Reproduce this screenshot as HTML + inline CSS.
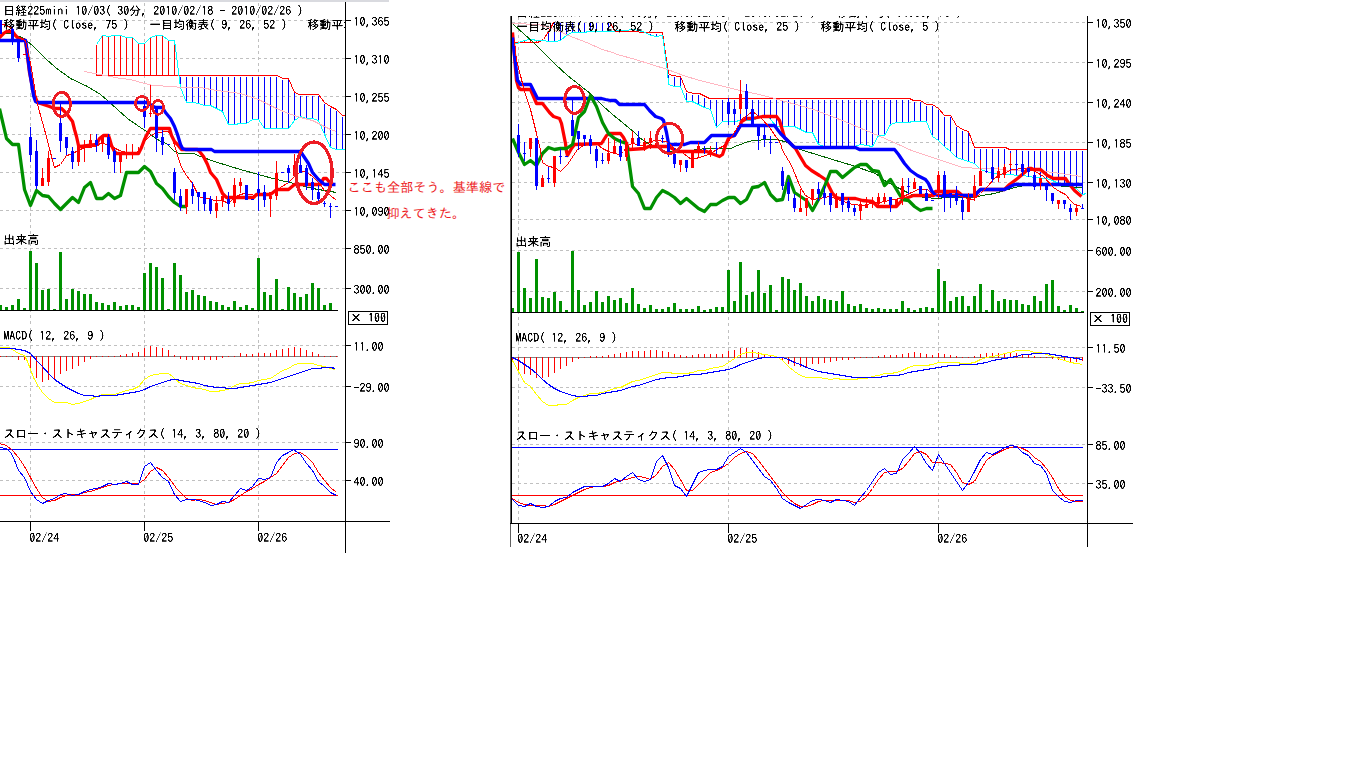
<!DOCTYPE html>
<html lang="ja"><head><meta charset="utf-8"><title>日経225mini チャート</title>
<style>html,body{margin:0;padding:0;background:#fff}body{width:1366px;height:768px;overflow:hidden;position:relative}svg{position:absolute;left:0;top:0;display:block}text{font-family:'IPAGothic','Liberation Mono',monospace;white-space:pre}.ce{shape-rendering:crispEdges}</style>
</head><body>
<svg width="1366" height="768" viewBox="0 0 1366 768">
<defs>
<clipPath id="cl"><rect x="0" y="2" width="345" height="520"/></clipPath>
<clipPath id="cr"><rect x="512" y="19" width="575" height="505"/></clipPath>
<clipPath id="ct"><rect x="512" y="16" width="575" height="30"/></clipPath>
<clipPath id="clt"><rect x="0" y="2" width="345" height="40"/></clipPath>
<filter id="gray" x="0" y="0" width="1366" height="768" filterUnits="userSpaceOnUse" color-interpolation-filters="sRGB"><feColorMatrix type="saturate" values="0"/><feComponentTransfer><feFuncA type="linear" slope="2.6" intercept="-0.5"/></feComponentTransfer></filter>
</defs>
<rect x="0" y="0" width="1366" height="768" fill="#ffffff"/>
<rect x="0" y="0" width="389" height="2" fill="#d9dadf"/>
<g class="ce">
<line x1="0" y1="20.5" x2="345" y2="20.5" stroke="#c0c0c0" stroke-width="1" stroke-dasharray="3,3" stroke-dashoffset="0"/>
<line x1="0" y1="58.5" x2="345" y2="58.5" stroke="#c0c0c0" stroke-width="1" stroke-dasharray="3,3" stroke-dashoffset="0"/>
<line x1="0" y1="96.5" x2="345" y2="96.5" stroke="#c0c0c0" stroke-width="1" stroke-dasharray="3,3" stroke-dashoffset="0"/>
<line x1="0" y1="134.5" x2="345" y2="134.5" stroke="#c0c0c0" stroke-width="1" stroke-dasharray="3,3" stroke-dashoffset="0"/>
<line x1="0" y1="172.5" x2="345" y2="172.5" stroke="#c0c0c0" stroke-width="1" stroke-dasharray="3,3" stroke-dashoffset="0"/>
<line x1="0" y1="210.5" x2="345" y2="210.5" stroke="#c0c0c0" stroke-width="1" stroke-dasharray="3,3" stroke-dashoffset="0"/>
<line x1="0" y1="248.5" x2="345" y2="248.5" stroke="#c0c0c0" stroke-width="1" stroke-dasharray="3,3" stroke-dashoffset="0"/>
<line x1="0" y1="288.5" x2="345" y2="288.5" stroke="#c0c0c0" stroke-width="1" stroke-dasharray="3,3" stroke-dashoffset="0"/>
<line x1="0" y1="345.5" x2="345" y2="345.5" stroke="#c0c0c0" stroke-width="1" stroke-dasharray="3,3" stroke-dashoffset="0"/>
<line x1="0" y1="386.5" x2="345" y2="386.5" stroke="#c0c0c0" stroke-width="1" stroke-dasharray="3,3" stroke-dashoffset="0"/>
<line x1="0" y1="442.5" x2="345" y2="442.5" stroke="#c0c0c0" stroke-width="1" stroke-dasharray="3,3" stroke-dashoffset="0"/>
<line x1="0" y1="480.5" x2="345" y2="480.5" stroke="#c0c0c0" stroke-width="1" stroke-dasharray="3,3" stroke-dashoffset="0"/>
<line x1="30.5" y1="3" x2="30.5" y2="326" stroke="#c0c0c0" stroke-width="1" stroke-dasharray="3,3" stroke-dashoffset="0"/>
<line x1="30.5" y1="328" x2="30.5" y2="421" stroke="#c0c0c0" stroke-width="1" stroke-dasharray="3,3" stroke-dashoffset="0"/>
<line x1="30.5" y1="425" x2="30.5" y2="518" stroke="#c0c0c0" stroke-width="1" stroke-dasharray="3,3" stroke-dashoffset="0"/>
<line x1="144.5" y1="3" x2="144.5" y2="326" stroke="#c0c0c0" stroke-width="1" stroke-dasharray="3,3" stroke-dashoffset="0"/>
<line x1="144.5" y1="328" x2="144.5" y2="421" stroke="#c0c0c0" stroke-width="1" stroke-dasharray="3,3" stroke-dashoffset="0"/>
<line x1="144.5" y1="425" x2="144.5" y2="518" stroke="#c0c0c0" stroke-width="1" stroke-dasharray="3,3" stroke-dashoffset="0"/>
<line x1="258.5" y1="3" x2="258.5" y2="326" stroke="#c0c0c0" stroke-width="1" stroke-dasharray="3,3" stroke-dashoffset="0"/>
<line x1="258.5" y1="328" x2="258.5" y2="421" stroke="#c0c0c0" stroke-width="1" stroke-dasharray="3,3" stroke-dashoffset="0"/>
<line x1="258.5" y1="425" x2="258.5" y2="518" stroke="#c0c0c0" stroke-width="1" stroke-dasharray="3,3" stroke-dashoffset="0"/>
<g clip-path="url(#cl)">
<rect x="96" y="44.9" width="1" height="30.6" fill="#ff0000"/>
<rect x="102" y="35.1" width="1" height="40.4" fill="#ff0000"/>
<rect x="108" y="36.6" width="1" height="38.9" fill="#ff0000"/>
<rect x="114" y="35" width="1" height="40.5" fill="#ff0000"/>
<rect x="120" y="35.1" width="1" height="40.4" fill="#ff0000"/>
<rect x="126" y="37.4" width="1" height="38.1" fill="#ff0000"/>
<rect x="132" y="37.4" width="1" height="38.1" fill="#ff0000"/>
<rect x="138" y="43.2" width="1" height="32.3" fill="#ff0000"/>
<rect x="144" y="43.2" width="1" height="32.3" fill="#ff0000"/>
<rect x="150" y="37.4" width="1" height="38.1" fill="#ff0000"/>
<rect x="156" y="35.1" width="1" height="40.4" fill="#ff0000"/>
<rect x="162" y="35.1" width="1" height="40.4" fill="#ff0000"/>
<rect x="168" y="40.3" width="1" height="35.2" fill="#ff0000"/>
<rect x="174" y="40.3" width="1" height="35.2" fill="#ff0000"/>
<rect x="180" y="77" width="1" height="10.4" fill="#0000ff"/>
<rect x="186" y="77" width="1" height="25.5" fill="#0000ff"/>
<rect x="192" y="77" width="1" height="25.5" fill="#0000ff"/>
<rect x="198" y="77" width="1" height="26.9" fill="#0000ff"/>
<rect x="204" y="77" width="1" height="28.6" fill="#0000ff"/>
<rect x="210" y="77" width="1" height="28.6" fill="#0000ff"/>
<rect x="216" y="77" width="1" height="31.3" fill="#0000ff"/>
<rect x="222" y="77" width="1" height="34.7" fill="#0000ff"/>
<rect x="228" y="77" width="1" height="47.4" fill="#0000ff"/>
<rect x="234" y="77" width="1" height="47.4" fill="#0000ff"/>
<rect x="240" y="77" width="1" height="46.3" fill="#0000ff"/>
<rect x="246" y="77" width="1" height="46.3" fill="#0000ff"/>
<rect x="252" y="77" width="1" height="42.6" fill="#0000ff"/>
<rect x="258" y="77" width="1" height="42.6" fill="#0000ff"/>
<rect x="264" y="77" width="1" height="51.3" fill="#0000ff"/>
<rect x="270" y="77" width="1" height="51.3" fill="#0000ff"/>
<rect x="276" y="77" width="1" height="51.3" fill="#0000ff"/>
<rect x="282" y="79.84" width="1" height="48.46" fill="#0000ff"/>
<rect x="288" y="79.9" width="1" height="48.4" fill="#0000ff"/>
<rect x="294" y="93.38" width="1" height="27.12" fill="#0000ff"/>
<rect x="300" y="95.9" width="1" height="20.7" fill="#0000ff"/>
<rect x="306" y="95.9" width="1" height="22.5" fill="#0000ff"/>
<rect x="312" y="95.9" width="1" height="22.5" fill="#0000ff"/>
<rect x="318" y="95.9" width="1" height="24.6" fill="#0000ff"/>
<rect x="324" y="103.96" width="1" height="30.24" fill="#0000ff"/>
<rect x="330" y="107.8" width="1" height="39.8" fill="#0000ff"/>
<rect x="336" y="110.65" width="1" height="38.95" fill="#0000ff"/>
<rect x="342" y="117" width="1" height="32.6" fill="#0000ff"/>
<polyline points="96.5,75.5 277.5,75.5 282.5,78.5 288.5,78.5 294.5,92.5 299.5,94.5 318.5,94.5 324.5,102.5 330.5,106.5 336.5,109.5 342.5,115.5 345.5,115.5" fill="none" stroke="#ff0000" stroke-width="1"/>
<polyline points="96.5,44.5 102.5,35.5 108.5,36.5 114.5,35.5 120.5,35.5 126.5,37.5 132.5,37.5 138.5,43.5 144.5,43.5 150.5,37.5 156.5,35.5 162.5,35.5 168.5,40.5 174.5,40.5 180.5,87.5 186.5,102.5 192.5,102.5 198.5,103.5 204.5,105.5 210.5,105.5 216.5,108.5 222.5,111.5 228.5,124.5 234.5,124.5 240.5,123.5 246.5,123.5 252.5,119.5 258.5,119.5 264.5,128.5 270.5,128.5 276.5,128.5 282.5,128.5 288.5,128.5 294.5,120.5 300.5,116.5 306.5,118.5 312.5,118.5 318.5,120.5 324.5,134.5 330.5,147.5 336.5,149.5 342.5,149.5 345.5,149.5" fill="none" stroke="#00ffff" stroke-width="1"/>
<polyline points="84.5,71.5 120.5,78.5 130.5,79.5 144.5,83.5 153.5,85.5 172.5,86.5 180.5,87.5 200.5,87.5 216.5,90.5 240.5,93.5 252.5,97.5 258.5,99.5 276.5,108.5 288.5,113.5 300.5,117.5 312.5,120.5 318.5,123.5 330.5,129.5 336.5,131.5" fill="none" stroke="#ffb6c1" stroke-width="1"/>
<polyline points="-0.5,33.5 4.5,33.5 9.5,33.5 18.5,36.5 22.5,37.5 26.5,40.5 33.5,46.5 45.5,58.5 55.5,67.5 70.5,78.5 87.5,86.5 100.5,94.5 107.5,100.5 117.5,109.5 127.5,118.5 137.5,125.5 146.5,131.5 150.5,134.5 160.5,141.5 166.5,143.5 174.5,151.5 179.5,153.5 193.5,153.5 200.5,156.5 214.5,161.5 230.5,166.5 240.5,169.5 258.5,174.5 276.5,179.5 294.5,183.5 312.5,188.5 336.5,192.5" fill="none" stroke="#006400" stroke-width="1"/>
<polyline points="-1.5,38.5 0.5,36.5 3.5,33.5 6.5,31.5 9.5,31.5 12.5,31.5 15.5,35.5 18.5,38.5 22.5,39.5 25.5,40.5 26.5,48.5 29.5,72.5 33.5,92.5 37.5,102.5 43.5,104.5 49.5,106.5 54.5,108.5 61.5,108.5 66.5,113.5 72.5,121.5 74.5,129.5 76.5,136.5 78.5,145.5 80.5,146.5 96.5,144.5 99.5,138.5 103.5,135.5 108.5,135.5 109.5,138.5 111.5,145.5 114.5,151.5 116.5,153.5 138.5,153.5 141.5,147.5 144.5,139.5 147.5,133.5 150.5,128.5 169.5,128.5 171.5,135.5 174.5,141.5 177.5,144.5 181.5,149.5 197.5,149.5 199.5,151.5 203.5,156.5 207.5,164.5 210.5,172.5 216.5,179.5 219.5,186.5 222.5,193.5 226.5,197.5 253.5,197.5 256.5,194.5 270.5,194.5 275.5,190.5 277.5,189.5 288.5,189.5 294.5,184.5 320.5,184.5 323.5,178.5 326.5,178.5 330.5,183.5 333.5,184.5" fill="none" stroke="#ff0000" stroke-width="3.3" stroke-linejoin="round" shape-rendering="geometricPrecision"/>
<polyline points="-1.5,40.5 25.5,40.5 26.5,46.5 29.5,70.5 33.5,95.5 35.5,101.5 37.5,102.5 146.5,102.5 153.5,106.5 155.5,107.5 162.5,107.5 165.5,112.5 170.5,118.5 174.5,126.5 177.5,134.5 180.5,144.5 182.5,148.5 185.5,149.5 211.5,149.5 214.5,151.5 300.5,151.5 302.5,154.5 308.5,163.5 312.5,172.5 318.5,179.5 324.5,184.5 326.5,184.5 335.5,184.5" fill="none" stroke="#0000ff" stroke-width="3.3" stroke-linejoin="round" shape-rendering="geometricPrecision"/>
<polyline points="-0.5,108.5 6.5,138.5 12.5,144.5 18.5,144.5 24.5,189.5 30.5,205.5 36.5,190.5 42.5,195.5 48.5,196.5 54.5,203.5 60.5,209.5 66.5,203.5 72.5,197.5 78.5,202.5 84.5,187.5 90.5,182.5 96.5,198.5 102.5,198.5 108.5,193.5 114.5,198.5 120.5,195.5 126.5,172.5 132.5,172.5 138.5,172.5 144.5,166.5 150.5,171.5 156.5,183.5 162.5,188.5 168.5,196.5 174.5,202.5 180.5,206.5 186.5,206.5" fill="none" stroke="#009000" stroke-width="3.3" stroke-linejoin="round" shape-rendering="geometricPrecision"/>
<polyline points="-0.5,23.5 2.5,24.5 6.5,25.5 10.5,27.5 13.5,31.5 15.5,34.5 18.5,37.5 22.5,39.5 25.5,40.5 27.5,50.5 30.5,63.5 35.5,92.5 37.5,104.5 44.5,129.5 49.5,148.5 52.5,160.5 54.5,167.5 60.5,164.5 66.5,155.5 70.5,154.5 74.5,152.5 82.5,148.5 88.5,147.5 96.5,146.5 101.5,142.5 106.5,144.5 111.5,146.5 115.5,148.5 119.5,150.5 126.5,152.5 134.5,152.5 139.5,151.5 144.5,141.5 150.5,135.5 157.5,132.5 168.5,131.5 172.5,138.5 175.5,148.5 178.5,158.5 181.5,167.5 186.5,175.5 192.5,183.5 197.5,193.5 200.5,197.5 208.5,198.5 214.5,200.5 222.5,200.5 226.5,202.5 229.5,202.5 234.5,197.5 240.5,194.5 244.5,193.5 250.5,194.5 255.5,195.5 264.5,195.5 270.5,192.5 276.5,190.5 280.5,187.5 288.5,182.5 294.5,176.5 297.5,173.5 303.5,171.5 308.5,173.5 312.5,176.5 318.5,182.5 324.5,190.5 330.5,195.5 336.5,200.5" fill="none" stroke="#ff0000" stroke-width="1"/>
<rect x="0" y="20" width="1" height="14" fill="#0000ff"/>
<rect x="-1" y="20" width="3" height="14" fill="#0000ff"/>
<rect x="12" y="25.7" width="1" height="19.3" fill="#0000ff"/>
<rect x="11" y="29" width="3" height="12" fill="#0000ff"/>
<rect x="18" y="41" width="1" height="20.5" fill="#0000ff"/>
<rect x="17" y="41" width="3" height="17" fill="#0000ff"/>
<rect x="23" y="54" width="3" height="1" fill="#ff0000"/>
<rect x="30" y="127" width="1" height="34.8" fill="#0000ff"/>
<rect x="29" y="137" width="3" height="17.5" fill="#0000ff"/>
<rect x="36" y="139.8" width="1" height="49.2" fill="#0000ff"/>
<rect x="35" y="151" width="3" height="34.6" fill="#0000ff"/>
<rect x="42" y="168" width="1" height="17.6" fill="#ff0000"/>
<rect x="41" y="178.3" width="3" height="7.3" fill="#ff0000"/>
<rect x="48" y="150.6" width="1" height="35.1" fill="#ff0000"/>
<rect x="47" y="158" width="3" height="24.3" fill="#ff0000"/>
<rect x="53" y="158" width="3" height="1" fill="#0000ff"/>
<rect x="60" y="103.7" width="1" height="48.3" fill="#0000ff"/>
<rect x="59" y="123.2" width="3" height="17.6" fill="#0000ff"/>
<rect x="66" y="136.9" width="1" height="18.1" fill="#0000ff"/>
<rect x="65" y="136.9" width="3" height="10.7" fill="#0000ff"/>
<rect x="72" y="147" width="1" height="21.5" fill="#0000ff"/>
<rect x="71" y="151" width="3" height="10.5" fill="#0000ff"/>
<rect x="78" y="145.7" width="1" height="19.9" fill="#ff0000"/>
<rect x="77" y="145.7" width="3" height="16" fill="#ff0000"/>
<rect x="84" y="139.8" width="1" height="22" fill="#ff0000"/>
<rect x="83" y="146" width="3" height="1.5" fill="#ff0000"/>
<rect x="90" y="134" width="1" height="14" fill="#ff0000"/>
<rect x="89" y="139.8" width="3" height="6.2" fill="#ff0000"/>
<rect x="96" y="134" width="1" height="18" fill="#0000ff"/>
<rect x="95" y="139.8" width="3" height="4.9" fill="#0000ff"/>
<rect x="102" y="135" width="1" height="17" fill="#ff0000"/>
<rect x="101" y="135" width="3" height="9" fill="#ff0000"/>
<rect x="108" y="134.4" width="1" height="24.4" fill="#0000ff"/>
<rect x="107" y="136.9" width="3" height="17.6" fill="#0000ff"/>
<rect x="114" y="148.6" width="1" height="24.1" fill="#0000ff"/>
<rect x="113" y="151" width="3" height="10.8" fill="#0000ff"/>
<rect x="120" y="153" width="1" height="19.7" fill="#ff0000"/>
<rect x="119" y="153" width="3" height="8.7" fill="#ff0000"/>
<rect x="126" y="143.7" width="1" height="15.1" fill="#ff0000"/>
<rect x="125" y="152" width="3" height="2" fill="#ff0000"/>
<rect x="132" y="143.7" width="1" height="15.1" fill="#ff0000"/>
<rect x="131" y="152" width="3" height="2" fill="#ff0000"/>
<rect x="138" y="146.6" width="1" height="7.4" fill="#ff0000"/>
<rect x="137" y="152" width="3" height="2" fill="#ff0000"/>
<rect x="144" y="100" width="1" height="27.8" fill="#0000ff"/>
<rect x="143" y="106" width="3" height="10.9" fill="#0000ff"/>
<rect x="150" y="85" width="1" height="31.9" fill="#ff0000"/>
<rect x="149" y="113" width="3" height="1" fill="#ff0000"/>
<rect x="156" y="108" width="1" height="44" fill="#0000ff"/>
<rect x="155" y="108" width="3" height="29.9" fill="#0000ff"/>
<rect x="162" y="130" width="1" height="25" fill="#0000ff"/>
<rect x="161" y="136.9" width="3" height="7.8" fill="#0000ff"/>
<rect x="167" y="144" width="3" height="1" fill="#0000ff"/>
<rect x="174" y="168" width="1" height="31.8" fill="#0000ff"/>
<rect x="173" y="172" width="3" height="20.5" fill="#0000ff"/>
<rect x="180" y="189" width="1" height="21.5" fill="#0000ff"/>
<rect x="179" y="196.4" width="3" height="10.6" fill="#0000ff"/>
<rect x="186" y="189" width="1" height="25" fill="#ff0000"/>
<rect x="185" y="189" width="3" height="17.6" fill="#ff0000"/>
<rect x="192" y="182.2" width="1" height="21.5" fill="#0000ff"/>
<rect x="191" y="189" width="3" height="7.4" fill="#0000ff"/>
<rect x="198" y="192.2" width="1" height="18.3" fill="#0000ff"/>
<rect x="197" y="192.2" width="3" height="4.5" fill="#0000ff"/>
<rect x="204" y="192.2" width="1" height="18.3" fill="#0000ff"/>
<rect x="203" y="192.2" width="3" height="11.5" fill="#0000ff"/>
<rect x="210" y="195.9" width="1" height="18.1" fill="#0000ff"/>
<rect x="209" y="199.3" width="3" height="11.2" fill="#0000ff"/>
<rect x="216" y="195.9" width="1" height="22" fill="#ff0000"/>
<rect x="215" y="203.2" width="3" height="7.3" fill="#ff0000"/>
<rect x="222" y="196.4" width="1" height="10.2" fill="#ff0000"/>
<rect x="221" y="196.4" width="3" height="3.4" fill="#ff0000"/>
<rect x="228" y="192" width="1" height="18.5" fill="#0000ff"/>
<rect x="227" y="198.8" width="3" height="4.7" fill="#0000ff"/>
<rect x="234" y="178.3" width="1" height="28.3" fill="#ff0000"/>
<rect x="233" y="185.2" width="3" height="18" fill="#ff0000"/>
<rect x="240" y="178.3" width="1" height="14.2" fill="#ff0000"/>
<rect x="239" y="182.2" width="3" height="3.4" fill="#ff0000"/>
<rect x="246" y="185.2" width="1" height="14.6" fill="#0000ff"/>
<rect x="245" y="185.2" width="3" height="14.6" fill="#0000ff"/>
<rect x="251" y="199" width="3" height="1" fill="#0000ff"/>
<rect x="258" y="172" width="1" height="38.5" fill="#0000ff"/>
<rect x="257" y="189" width="3" height="4" fill="#0000ff"/>
<rect x="264" y="185.2" width="1" height="21.4" fill="#0000ff"/>
<rect x="263" y="192" width="3" height="7.8" fill="#0000ff"/>
<rect x="270" y="193" width="1" height="24.4" fill="#ff0000"/>
<rect x="269" y="195.9" width="3" height="3.4" fill="#ff0000"/>
<rect x="276" y="161.2" width="1" height="38.6" fill="#ff0000"/>
<rect x="275" y="172.5" width="3" height="23.9" fill="#ff0000"/>
<rect x="281" y="172" width="3" height="1" fill="#0000ff"/>
<rect x="288" y="165" width="1" height="17.7" fill="#0000ff"/>
<rect x="287" y="168" width="3" height="4.7" fill="#0000ff"/>
<rect x="294" y="154" width="1" height="22.4" fill="#ff0000"/>
<rect x="293" y="164.6" width="3" height="11.8" fill="#ff0000"/>
<rect x="300" y="155" width="1" height="17.7" fill="#0000ff"/>
<rect x="299" y="165" width="3" height="7.7" fill="#0000ff"/>
<rect x="306" y="164.6" width="1" height="24.9" fill="#0000ff"/>
<rect x="305" y="168" width="3" height="17.6" fill="#0000ff"/>
<rect x="312" y="178.3" width="1" height="21.5" fill="#0000ff"/>
<rect x="311" y="182.2" width="3" height="7.3" fill="#0000ff"/>
<rect x="318" y="185.2" width="1" height="16.6" fill="#0000ff"/>
<rect x="317" y="191.5" width="3" height="7.8" fill="#0000ff"/>
<rect x="324" y="200.8" width="1" height="5.8" fill="#0000ff"/>
<rect x="323" y="203" width="3" height="1" fill="#0000ff"/>
<rect x="330" y="203.2" width="1" height="14.7" fill="#0000ff"/>
<rect x="329" y="206" width="3" height="1" fill="#0000ff"/>
<rect x="335" y="206" width="3" height="1" fill="#0000ff"/>
<rect x="-1" y="305" width="3" height="5" fill="#009000"/>
<rect x="5" y="307" width="3" height="3" fill="#009000"/>
<rect x="11" y="305" width="3" height="5" fill="#009000"/>
<rect x="17" y="299" width="3" height="11" fill="#009000"/>
<rect x="23" y="308" width="3" height="2" fill="#009000"/>
<rect x="29" y="251" width="3" height="59" fill="#009000"/>
<rect x="35" y="263" width="3" height="47" fill="#009000"/>
<rect x="41" y="290" width="3" height="20" fill="#009000"/>
<rect x="47" y="289" width="3" height="21" fill="#009000"/>
<rect x="53" y="309" width="3" height="1" fill="#009000"/>
<rect x="59" y="252" width="3" height="58" fill="#009000"/>
<rect x="65" y="299" width="3" height="11" fill="#009000"/>
<rect x="71" y="289" width="3" height="21" fill="#009000"/>
<rect x="77" y="291" width="3" height="19" fill="#009000"/>
<rect x="83" y="294" width="3" height="16" fill="#009000"/>
<rect x="89" y="294" width="3" height="16" fill="#009000"/>
<rect x="95" y="302" width="3" height="8" fill="#009000"/>
<rect x="101" y="303" width="3" height="7" fill="#009000"/>
<rect x="107" y="305" width="3" height="5" fill="#009000"/>
<rect x="113" y="302" width="3" height="8" fill="#009000"/>
<rect x="119" y="306" width="3" height="4" fill="#009000"/>
<rect x="125" y="305" width="3" height="5" fill="#009000"/>
<rect x="131" y="305" width="3" height="5" fill="#009000"/>
<rect x="137" y="307" width="3" height="3" fill="#009000"/>
<rect x="143" y="273" width="3" height="37" fill="#009000"/>
<rect x="149" y="263" width="3" height="47" fill="#009000"/>
<rect x="155" y="267" width="3" height="43" fill="#009000"/>
<rect x="161" y="278" width="3" height="32" fill="#009000"/>
<rect x="167" y="309" width="3" height="1" fill="#009000"/>
<rect x="173" y="263" width="3" height="47" fill="#009000"/>
<rect x="179" y="275" width="3" height="35" fill="#009000"/>
<rect x="185" y="292" width="3" height="18" fill="#009000"/>
<rect x="191" y="290" width="3" height="20" fill="#009000"/>
<rect x="197" y="295" width="3" height="15" fill="#009000"/>
<rect x="203" y="296" width="3" height="14" fill="#009000"/>
<rect x="209" y="301" width="3" height="9" fill="#009000"/>
<rect x="215" y="302" width="3" height="8" fill="#009000"/>
<rect x="221" y="305" width="3" height="5" fill="#009000"/>
<rect x="227" y="307" width="3" height="3" fill="#009000"/>
<rect x="233" y="301" width="3" height="9" fill="#009000"/>
<rect x="239" y="307" width="3" height="3" fill="#009000"/>
<rect x="245" y="305" width="3" height="5" fill="#009000"/>
<rect x="251" y="308" width="3" height="2" fill="#009000"/>
<rect x="257" y="258" width="3" height="52" fill="#009000"/>
<rect x="263" y="292" width="3" height="18" fill="#009000"/>
<rect x="269" y="295" width="3" height="15" fill="#009000"/>
<rect x="275" y="279" width="3" height="31" fill="#009000"/>
<rect x="281" y="309" width="3" height="1" fill="#009000"/>
<rect x="287" y="287" width="3" height="23" fill="#009000"/>
<rect x="293" y="293" width="3" height="17" fill="#009000"/>
<rect x="299" y="297" width="3" height="13" fill="#009000"/>
<rect x="305" y="294" width="3" height="16" fill="#009000"/>
<rect x="311" y="283" width="3" height="27" fill="#009000"/>
<rect x="317" y="288" width="3" height="22" fill="#009000"/>
<rect x="323" y="305" width="3" height="5" fill="#009000"/>
<rect x="329" y="303" width="3" height="7" fill="#009000"/>
<rect x="0" y="310" width="338" height="1" fill="#000"/>
<rect x="0" y="356" width="338" height="1" fill="#808080"/>
<rect x="0" y="356" width="1" height="1" fill="#ff0000"/>
<rect x="6" y="356" width="1" height="1" fill="#ff0000"/>
<rect x="12" y="356" width="1" height="1" fill="#ff0000"/>
<rect x="18" y="356" width="1" height="4" fill="#ff0000"/>
<rect x="24" y="356" width="1" height="4" fill="#ff0000"/>
<rect x="30" y="356" width="1" height="15" fill="#ff0000"/>
<rect x="36" y="356" width="1" height="22" fill="#ff0000"/>
<rect x="42" y="356" width="1" height="26" fill="#ff0000"/>
<rect x="48" y="356" width="1" height="24" fill="#ff0000"/>
<rect x="54" y="356" width="1" height="23" fill="#ff0000"/>
<rect x="60" y="356" width="1" height="18" fill="#ff0000"/>
<rect x="66" y="356" width="1" height="15" fill="#ff0000"/>
<rect x="72" y="356" width="1" height="13" fill="#ff0000"/>
<rect x="78" y="356" width="1" height="10" fill="#ff0000"/>
<rect x="84" y="356" width="1" height="6" fill="#ff0000"/>
<rect x="90" y="356" width="1" height="3" fill="#ff0000"/>
<rect x="96" y="356" width="1" height="1" fill="#ff0000"/>
<rect x="102" y="356" width="1" height="1" fill="#ff0000"/>
<rect x="108" y="356" width="1" height="1" fill="#ff0000"/>
<rect x="114" y="356" width="1" height="1" fill="#ff0000"/>
<rect x="120" y="355" width="1" height="2" fill="#ff0000"/>
<rect x="126" y="354" width="1" height="3" fill="#ff0000"/>
<rect x="132" y="353" width="1" height="4" fill="#ff0000"/>
<rect x="138" y="352" width="1" height="5" fill="#ff0000"/>
<rect x="144" y="348" width="1" height="9" fill="#ff0000"/>
<rect x="150" y="346" width="1" height="11" fill="#ff0000"/>
<rect x="156" y="347" width="1" height="10" fill="#ff0000"/>
<rect x="162" y="348" width="1" height="9" fill="#ff0000"/>
<rect x="168" y="350" width="1" height="7" fill="#ff0000"/>
<rect x="174" y="355" width="1" height="2" fill="#ff0000"/>
<rect x="180" y="356" width="1" height="3" fill="#ff0000"/>
<rect x="186" y="356" width="1" height="4" fill="#ff0000"/>
<rect x="192" y="356" width="1" height="4" fill="#ff0000"/>
<rect x="198" y="356" width="1" height="4" fill="#ff0000"/>
<rect x="204" y="356" width="1" height="4" fill="#ff0000"/>
<rect x="210" y="356" width="1" height="4" fill="#ff0000"/>
<rect x="216" y="356" width="1" height="4" fill="#ff0000"/>
<rect x="222" y="356" width="1" height="2" fill="#ff0000"/>
<rect x="228" y="356" width="1" height="1" fill="#ff0000"/>
<rect x="234" y="356" width="1" height="1" fill="#ff0000"/>
<rect x="240" y="353" width="1" height="4" fill="#ff0000"/>
<rect x="246" y="354" width="1" height="3" fill="#ff0000"/>
<rect x="252" y="354" width="1" height="3" fill="#ff0000"/>
<rect x="258" y="353" width="1" height="4" fill="#ff0000"/>
<rect x="264" y="353" width="1" height="4" fill="#ff0000"/>
<rect x="270" y="353" width="1" height="4" fill="#ff0000"/>
<rect x="276" y="350" width="1" height="7" fill="#ff0000"/>
<rect x="282" y="349" width="1" height="8" fill="#ff0000"/>
<rect x="288" y="348" width="1" height="9" fill="#ff0000"/>
<rect x="294" y="347" width="1" height="10" fill="#ff0000"/>
<rect x="300" y="348" width="1" height="9" fill="#ff0000"/>
<rect x="306" y="350" width="1" height="7" fill="#ff0000"/>
<rect x="312" y="352" width="1" height="5" fill="#ff0000"/>
<rect x="318" y="354" width="1" height="3" fill="#ff0000"/>
<rect x="324" y="356" width="1" height="1" fill="#ff0000"/>
<rect x="330" y="356" width="1" height="1" fill="#ff0000"/>
<rect x="336" y="356" width="1" height="1" fill="#ff0000"/>
<polyline points="-0.5,347.5 8.5,347.5 12.5,349.5 18.5,353.5 24.5,355.5 27.5,361.5 30.5,369.5 33.5,377.5 38.5,386.5 42.5,392.5 48.5,398.5 54.5,402.5 60.5,402.5 66.5,402.5 72.5,404.5 78.5,403.5 84.5,401.5 90.5,399.5 96.5,396.5 102.5,394.5 108.5,394.5 114.5,394.5 120.5,392.5 126.5,390.5 132.5,389.5 138.5,386.5 144.5,379.5 150.5,375.5 156.5,374.5 162.5,373.5 168.5,373.5 172.5,376.5 175.5,379.5 180.5,383.5 186.5,385.5 192.5,387.5 198.5,388.5 204.5,389.5 210.5,391.5 216.5,391.5 222.5,390.5 228.5,389.5 234.5,385.5 240.5,383.5 246.5,383.5 252.5,382.5 258.5,380.5 264.5,379.5 270.5,378.5 276.5,374.5 282.5,370.5 288.5,368.5 294.5,364.5 300.5,363.5 306.5,363.5 312.5,363.5 318.5,365.5 324.5,366.5 330.5,368.5 335.5,369.5" fill="none" stroke="#ffff00" stroke-width="1"/>
<polyline points="-0.5,348.5 12.5,348.5 18.5,349.5 24.5,350.5 30.5,353.5 36.5,360.5 42.5,366.5 48.5,373.5 54.5,379.5 60.5,383.5 66.5,387.5 72.5,390.5 78.5,393.5 84.5,395.5 90.5,395.5 96.5,396.5 102.5,395.5 108.5,395.5 114.5,395.5 120.5,394.5 126.5,393.5 132.5,392.5 138.5,391.5 144.5,389.5 150.5,386.5 156.5,384.5 162.5,382.5 168.5,380.5 172.5,379.5 176.5,379.5 180.5,380.5 186.5,381.5 192.5,382.5 198.5,383.5 204.5,385.5 210.5,386.5 216.5,387.5 222.5,387.5 228.5,388.5 234.5,388.5 240.5,387.5 246.5,386.5 252.5,385.5 258.5,384.5 264.5,383.5 270.5,382.5 276.5,380.5 282.5,378.5 288.5,376.5 294.5,374.5 300.5,372.5 306.5,370.5 312.5,368.5 318.5,368.5 324.5,367.5 330.5,367.5 335.5,368.5" fill="none" stroke="#0000ff" stroke-width="1.2"/>
<rect x="0" y="449" width="338" height="1" fill="#0000ff"/>
<rect x="0" y="495" width="338" height="1" fill="#ff0000"/>
<polyline points="-0.5,443.5 6.5,445.5 12.5,450.5 18.5,457.5 24.5,466.5 30.5,477.5 36.5,488.5 42.5,497.5 48.5,501.5 54.5,500.5 60.5,497.5 66.5,495.5 72.5,494.5 78.5,494.5 84.5,492.5 90.5,491.5 96.5,489.5 102.5,487.5 108.5,485.5 114.5,484.5 120.5,483.5 126.5,483.5 132.5,483.5 138.5,483.5 144.5,479.5 150.5,471.5 156.5,467.5 162.5,470.5 168.5,477.5 174.5,485.5 176.5,488.5 182.5,494.5 186.5,498.5 192.5,500.5 198.5,499.5 204.5,500.5 210.5,502.5 216.5,504.5 222.5,503.5 228.5,502.5 234.5,499.5 240.5,495.5 246.5,491.5 252.5,488.5 258.5,484.5 264.5,481.5 270.5,477.5 276.5,473.5 282.5,465.5 288.5,457.5 294.5,453.5 300.5,452.5 306.5,456.5 312.5,462.5 318.5,472.5 324.5,480.5 330.5,487.5 336.5,492.5" fill="none" stroke="#ff0000" stroke-width="1"/>
<polyline points="-0.5,447.5 6.5,448.5 10.5,452.5 13.5,457.5 18.5,470.5 24.5,477.5 30.5,491.5 36.5,499.5 42.5,503.5 48.5,500.5 54.5,498.5 60.5,494.5 65.5,493.5 72.5,495.5 78.5,494.5 84.5,491.5 90.5,489.5 96.5,488.5 102.5,486.5 108.5,483.5 114.5,484.5 120.5,483.5 126.5,481.5 132.5,484.5 138.5,484.5 144.5,466.5 150.5,462.5 156.5,470.5 162.5,477.5 168.5,481.5 174.5,494.5 180.5,501.5 186.5,499.5 192.5,499.5 198.5,500.5 204.5,502.5 211.5,505.5 216.5,504.5 222.5,501.5 228.5,502.5 234.5,495.5 240.5,488.5 246.5,490.5 252.5,486.5 258.5,478.5 264.5,479.5 270.5,477.5 276.5,462.5 282.5,455.5 288.5,452.5 293.5,449.5 300.5,454.5 306.5,463.5 312.5,470.5 318.5,481.5 324.5,486.5 330.5,492.5 336.5,495.5" fill="none" stroke="#0000ff" stroke-width="1"/>
</g>
<rect x="345" y="2" width="1" height="551" fill="#000"/>
<rect x="0" y="521" width="390" height="1" fill="#000"/>
<rect x="346" y="20" width="5" height="1" fill="#000"/>
<rect x="346" y="58" width="5" height="1" fill="#000"/>
<rect x="346" y="96" width="5" height="1" fill="#000"/>
<rect x="346" y="134" width="5" height="1" fill="#000"/>
<rect x="346" y="172" width="5" height="1" fill="#000"/>
<rect x="346" y="210" width="5" height="1" fill="#000"/>
<rect x="346" y="248" width="5" height="1" fill="#000"/>
<rect x="346" y="288" width="5" height="1" fill="#000"/>
<rect x="346" y="345" width="5" height="1" fill="#000"/>
<rect x="346" y="386" width="5" height="1" fill="#000"/>
<rect x="346" y="442" width="5" height="1" fill="#000"/>
<rect x="346" y="480" width="5" height="1" fill="#000"/>
<rect x="30" y="522" width="1" height="9" fill="#000"/>
<rect x="144" y="522" width="1" height="9" fill="#000"/>
<rect x="258" y="522" width="1" height="9" fill="#000"/>
<rect x="348.5" y="311.5" width="39" height="13" fill="#fff" stroke="#000" stroke-width="1"/>
</g>
<g filter="url(#gray)">
<g clip-path="url(#cl)">
<text x="3.3" y="14.56" font-size="12" fill="#000" xml:space="preserve">日経225mini 10/03( 30分, 2010/02/18 - 2010/02/26 )</text>
<text x="3.3" y="28.56" font-size="12" fill="#000" xml:space="preserve">移動平均( Close, 75 )</text>
<text x="149.3" y="28.56" font-size="12" fill="#000" xml:space="preserve">一目均衡表( 9, 26, 52 )</text>
<text x="307.3" y="28.56" font-size="12" fill="#000" xml:space="preserve">移動平均( Close, 25 )</text>
<text x="3.3" y="243.56" font-size="12" fill="#000" xml:space="preserve">出来高</text>
<text x="3.3" y="339.56" font-size="12" fill="#000" xml:space="preserve">MACD( 12, 26, 9 )</text>
<text x="3.3" y="437.56" font-size="12" fill="#000" xml:space="preserve">スロー・ストキャスティクス( 14, 3, 80, 20 )</text>
</g>
<text x="353.5" y="25.56" font-size="12" fill="#000" xml:space="preserve">10,365</text>
<text x="353.5" y="63.56" font-size="12" fill="#000" xml:space="preserve">10,310</text>
<text x="353.5" y="101.56" font-size="12" fill="#000" xml:space="preserve">10,255</text>
<text x="353.5" y="139.56" font-size="12" fill="#000" xml:space="preserve">10,200</text>
<text x="353.5" y="177.56" font-size="12" fill="#000" xml:space="preserve">10,145</text>
<text x="353.5" y="215.56" font-size="12" fill="#000" xml:space="preserve">10,090</text>
<text x="353.5" y="253.56" font-size="12" fill="#000" xml:space="preserve">850.00</text>
<text x="353.5" y="293.56" font-size="12" fill="#000" xml:space="preserve">300.00</text>
<text x="353.5" y="350.56" font-size="12" fill="#000" xml:space="preserve">11.00</text>
<text x="353.5" y="391.56" font-size="12" fill="#000" xml:space="preserve">-29.00</text>
<text x="353.5" y="447.56" font-size="12" fill="#000" xml:space="preserve">90.00</text>
<text x="353.5" y="485.56" font-size="12" fill="#000" xml:space="preserve">40.00</text>
<text x="350" y="321.56" font-size="12" fill="#000" xml:space="preserve">× 100</text>
<text x="29.3" y="541.56" font-size="12" fill="#000" xml:space="preserve">02/24</text>
<text x="143.3" y="541.56" font-size="12" fill="#000" xml:space="preserve">02/25</text>
<text x="257.3" y="541.56" font-size="12" fill="#000" xml:space="preserve">02/26</text>
</g>
<text x="347.6" y="192.4" font-size="13.15" fill="#ed1c24" style="font-family:'Liberation Sans','IPAGothic',sans-serif">ここも全部そう。基準線で</text>
<text x="386.4" y="218.1" font-size="13.15" fill="#ed1c24" style="font-family:'Liberation Sans','IPAGothic',sans-serif">抑えてきた。</text>
<g class="ce">
<line x1="512" y1="22.5" x2="1087" y2="22.5" stroke="#c0c0c0" stroke-width="1" stroke-dasharray="3,3" stroke-dashoffset="0"/>
<line x1="512" y1="62.5" x2="1087" y2="62.5" stroke="#c0c0c0" stroke-width="1" stroke-dasharray="3,3" stroke-dashoffset="0"/>
<line x1="512" y1="102.5" x2="1087" y2="102.5" stroke="#c0c0c0" stroke-width="1" stroke-dasharray="3,3" stroke-dashoffset="0"/>
<line x1="512" y1="142.5" x2="1087" y2="142.5" stroke="#c0c0c0" stroke-width="1" stroke-dasharray="3,3" stroke-dashoffset="0"/>
<line x1="512" y1="182.5" x2="1087" y2="182.5" stroke="#c0c0c0" stroke-width="1" stroke-dasharray="3,3" stroke-dashoffset="0"/>
<line x1="512" y1="219.5" x2="1087" y2="219.5" stroke="#c0c0c0" stroke-width="1" stroke-dasharray="3,3" stroke-dashoffset="0"/>
<line x1="512" y1="250.5" x2="1087" y2="250.5" stroke="#c0c0c0" stroke-width="1" stroke-dasharray="3,3" stroke-dashoffset="0"/>
<line x1="512" y1="291.5" x2="1087" y2="291.5" stroke="#c0c0c0" stroke-width="1" stroke-dasharray="3,3" stroke-dashoffset="0"/>
<line x1="512" y1="347.5" x2="1087" y2="347.5" stroke="#c0c0c0" stroke-width="1" stroke-dasharray="3,3" stroke-dashoffset="0"/>
<line x1="512" y1="387.5" x2="1087" y2="387.5" stroke="#c0c0c0" stroke-width="1" stroke-dasharray="3,3" stroke-dashoffset="0"/>
<line x1="512" y1="444.5" x2="1087" y2="444.5" stroke="#c0c0c0" stroke-width="1" stroke-dasharray="3,3" stroke-dashoffset="0"/>
<line x1="512" y1="483.5" x2="1087" y2="483.5" stroke="#c0c0c0" stroke-width="1" stroke-dasharray="3,3" stroke-dashoffset="0"/>
<line x1="518.5" y1="17" x2="518.5" y2="328" stroke="#c0c0c0" stroke-width="1" stroke-dasharray="3,3" stroke-dashoffset="0"/>
<line x1="518.5" y1="330" x2="518.5" y2="423" stroke="#c0c0c0" stroke-width="1" stroke-dasharray="3,3" stroke-dashoffset="0"/>
<line x1="518.5" y1="427" x2="518.5" y2="520" stroke="#c0c0c0" stroke-width="1" stroke-dasharray="3,3" stroke-dashoffset="0"/>
<line x1="728.5" y1="17" x2="728.5" y2="328" stroke="#c0c0c0" stroke-width="1" stroke-dasharray="3,3" stroke-dashoffset="0"/>
<line x1="728.5" y1="330" x2="728.5" y2="423" stroke="#c0c0c0" stroke-width="1" stroke-dasharray="3,3" stroke-dashoffset="0"/>
<line x1="728.5" y1="427" x2="728.5" y2="520" stroke="#c0c0c0" stroke-width="1" stroke-dasharray="3,3" stroke-dashoffset="0"/>
<line x1="938.5" y1="17" x2="938.5" y2="328" stroke="#c0c0c0" stroke-width="1" stroke-dasharray="3,3" stroke-dashoffset="0"/>
<line x1="938.5" y1="330" x2="938.5" y2="423" stroke="#c0c0c0" stroke-width="1" stroke-dasharray="3,3" stroke-dashoffset="0"/>
<line x1="938.5" y1="427" x2="938.5" y2="520" stroke="#c0c0c0" stroke-width="1" stroke-dasharray="3,3" stroke-dashoffset="0"/>
<g clip-path="url(#cr)">
<rect x="524" y="40.51" width="1" height="1.89" fill="#ff0000"/>
<rect x="530" y="39.2" width="1" height="3.2" fill="#ff0000"/>
<rect x="536" y="40.43" width="1" height="1.97" fill="#ff0000"/>
<rect x="548" y="32.38" width="1" height="9.22" fill="#0000ff"/>
<rect x="554" y="23" width="1" height="18.6" fill="#0000ff"/>
<rect x="560" y="23" width="1" height="17.26" fill="#0000ff"/>
<rect x="566" y="23" width="1" height="12.17" fill="#0000ff"/>
<rect x="572" y="23" width="1" height="9.79" fill="#0000ff"/>
<rect x="578" y="23" width="1" height="9.3" fill="#0000ff"/>
<rect x="584" y="23" width="1" height="9.3" fill="#0000ff"/>
<rect x="590" y="23" width="1" height="8.4" fill="#0000ff"/>
<rect x="596" y="23" width="1" height="8.4" fill="#0000ff"/>
<rect x="602" y="23" width="1" height="8.4" fill="#0000ff"/>
<rect x="608" y="23" width="1" height="8.4" fill="#0000ff"/>
<rect x="620" y="30.2" width="1" height="1.75" fill="#ff0000"/>
<rect x="626" y="30.12" width="1" height="1.88" fill="#ff0000"/>
<rect x="632" y="29.24" width="1" height="2.81" fill="#ff0000"/>
<rect x="638" y="30.31" width="1" height="1.8" fill="#ff0000"/>
<rect x="650" y="33.7" width="1" height="1.62" fill="#0000ff"/>
<rect x="656" y="33.75" width="1" height="2.88" fill="#0000ff"/>
<rect x="662" y="33.8" width="1" height="1.52" fill="#0000ff"/>
<rect x="668" y="75.22" width="1" height="9.08" fill="#0000ff"/>
<rect x="674" y="77.34" width="1" height="9.16" fill="#0000ff"/>
<rect x="680" y="78.27" width="1" height="8.23" fill="#0000ff"/>
<rect x="686" y="93.1" width="1" height="8.5" fill="#0000ff"/>
<rect x="692" y="94.67" width="1" height="6.93" fill="#0000ff"/>
<rect x="698" y="94.9" width="1" height="9.45" fill="#0000ff"/>
<rect x="704" y="97.6" width="1" height="9.55" fill="#0000ff"/>
<rect x="710" y="99.9" width="1" height="9.1" fill="#0000ff"/>
<rect x="716" y="99.9" width="1" height="27.6" fill="#0000ff"/>
<rect x="722" y="99.9" width="1" height="21.8" fill="#0000ff"/>
<rect x="728" y="99.9" width="1" height="21.8" fill="#0000ff"/>
<rect x="734" y="99.9" width="1" height="21.8" fill="#0000ff"/>
<rect x="740" y="99.9" width="1" height="20.5" fill="#0000ff"/>
<rect x="746" y="99.9" width="1" height="20.5" fill="#0000ff"/>
<rect x="752" y="99.9" width="1" height="20.5" fill="#0000ff"/>
<rect x="758" y="99.9" width="1" height="17.2" fill="#0000ff"/>
<rect x="764" y="99.9" width="1" height="17.4" fill="#0000ff"/>
<rect x="770" y="99.9" width="1" height="19.03" fill="#0000ff"/>
<rect x="776" y="99.9" width="1" height="26.4" fill="#0000ff"/>
<rect x="782" y="99.9" width="1" height="26.4" fill="#0000ff"/>
<rect x="788" y="99.9" width="1" height="26.4" fill="#0000ff"/>
<rect x="794" y="99.9" width="1" height="26.4" fill="#0000ff"/>
<rect x="800" y="99.9" width="1" height="29.8" fill="#0000ff"/>
<rect x="806" y="99.9" width="1" height="32.7" fill="#0000ff"/>
<rect x="812" y="99.9" width="1" height="32.9" fill="#0000ff"/>
<rect x="818" y="99.9" width="1" height="44.93" fill="#0000ff"/>
<rect x="824" y="99.9" width="1" height="46.87" fill="#0000ff"/>
<rect x="830" y="99.9" width="1" height="46.9" fill="#0000ff"/>
<rect x="836" y="99.9" width="1" height="46.9" fill="#0000ff"/>
<rect x="842" y="99.9" width="1" height="46.9" fill="#0000ff"/>
<rect x="848" y="99.9" width="1" height="46.9" fill="#0000ff"/>
<rect x="854" y="99.9" width="1" height="46.9" fill="#0000ff"/>
<rect x="860" y="99.9" width="1" height="44.4" fill="#0000ff"/>
<rect x="866" y="99.9" width="1" height="45.38" fill="#0000ff"/>
<rect x="872" y="99.9" width="1" height="46.4" fill="#0000ff"/>
<rect x="878" y="99.9" width="1" height="35.6" fill="#0000ff"/>
<rect x="884" y="99.9" width="1" height="35.6" fill="#0000ff"/>
<rect x="890" y="99.9" width="1" height="25.08" fill="#0000ff"/>
<rect x="896" y="99.9" width="1" height="22.5" fill="#0000ff"/>
<rect x="902" y="99.9" width="1" height="22.5" fill="#0000ff"/>
<rect x="908" y="99.9" width="1" height="22.5" fill="#0000ff"/>
<rect x="914" y="101.9" width="1" height="19.5" fill="#0000ff"/>
<rect x="920" y="101.9" width="1" height="19.5" fill="#0000ff"/>
<rect x="926" y="105.6" width="1" height="15.8" fill="#0000ff"/>
<rect x="932" y="105.68" width="1" height="30.4" fill="#0000ff"/>
<rect x="938" y="110.3" width="1" height="30.2" fill="#0000ff"/>
<rect x="944" y="116.6" width="1" height="30.1" fill="#0000ff"/>
<rect x="950" y="116.7" width="1" height="35" fill="#0000ff"/>
<rect x="956" y="126.8" width="1" height="30.8" fill="#0000ff"/>
<rect x="962" y="131.2" width="1" height="28.3" fill="#0000ff"/>
<rect x="968" y="133.1" width="1" height="28.4" fill="#0000ff"/>
<rect x="974" y="148.54" width="1" height="14.83" fill="#0000ff"/>
<rect x="980" y="148.8" width="1" height="20.5" fill="#0000ff"/>
<rect x="986" y="148.8" width="1" height="22.86" fill="#0000ff"/>
<rect x="992" y="148.8" width="1" height="24.2" fill="#0000ff"/>
<rect x="998" y="148.8" width="1" height="24.7" fill="#0000ff"/>
<rect x="1004" y="148.8" width="1" height="25.2" fill="#0000ff"/>
<rect x="1010" y="151" width="1" height="23.63" fill="#0000ff"/>
<rect x="1016" y="151" width="1" height="24.26" fill="#0000ff"/>
<rect x="1022" y="151" width="1" height="24.89" fill="#0000ff"/>
<rect x="1028" y="151" width="1" height="25.64" fill="#0000ff"/>
<rect x="1034" y="151" width="1" height="26.4" fill="#0000ff"/>
<rect x="1040" y="151" width="1" height="26.85" fill="#0000ff"/>
<rect x="1046" y="151" width="1" height="27.3" fill="#0000ff"/>
<rect x="1052" y="151" width="1" height="29.85" fill="#0000ff"/>
<rect x="1058" y="151" width="1" height="32.91" fill="#0000ff"/>
<rect x="1064" y="151" width="1" height="33.81" fill="#0000ff"/>
<rect x="1070" y="151" width="1" height="34.7" fill="#0000ff"/>
<rect x="1076" y="151" width="1" height="37" fill="#0000ff"/>
<rect x="1082" y="151" width="1" height="43.5" fill="#0000ff"/>
<polyline points="512.5,42.5 537.5,42.5 543.5,39.5 550.5,28.5 553.5,22.5" fill="none" stroke="#ff0000" stroke-width="1"/>
<polyline points="610.5,22.5 614.5,31.5 662.5,32.5 668.5,73.5 671.5,75.5 680.5,76.5 686.5,91.5 693.5,93.5 699.5,93.5 709.5,98.5 909.5,98.5 913.5,100.5 920.5,100.5 926.5,104.5 932.5,104.5 938.5,108.5 944.5,115.5 950.5,115.5 956.5,125.5 962.5,129.5 968.5,131.5 974.5,147.5 1005.5,147.5 1009.5,149.5 1087.5,149.5" fill="none" stroke="#ff0000" stroke-width="1"/>
<polyline points="512.5,44.5 516.5,43.5 521.5,41.5 528.5,39.5 531.5,39.5 537.5,40.5 543.5,40.5 548.5,41.5 555.5,41.5 560.5,40.5 567.5,34.5 572.5,32.5 578.5,32.5 584.5,32.5 588.5,31.5 612.5,31.5 617.5,30.5 626.5,30.5 631.5,29.5 634.5,29.5 645.5,32.5 650.5,35.5 656.5,36.5 662.5,35.5 667.5,71.5 668.5,84.5 674.5,86.5 680.5,86.5 686.5,101.5 692.5,101.5 698.5,104.5 704.5,107.5 710.5,109.5 716.5,127.5 722.5,121.5 734.5,121.5 740.5,120.5 752.5,120.5 754.5,119.5 758.5,117.5 768.5,117.5 770.5,119.5 776.5,126.5 794.5,126.5 800.5,129.5 806.5,132.5 812.5,132.5 818.5,144.5 824.5,146.5 854.5,146.5 860.5,144.5 866.5,145.5 872.5,146.5 878.5,135.5 884.5,135.5 890.5,124.5 896.5,122.5 908.5,122.5 912.5,121.5 926.5,121.5 932.5,136.5 938.5,140.5 944.5,146.5 950.5,151.5 956.5,157.5 962.5,159.5 968.5,161.5 974.5,163.5 980.5,169.5 986.5,171.5 992.5,173.5 1004.5,174.5 1022.5,175.5 1034.5,177.5 1046.5,178.5 1052.5,180.5 1058.5,183.5 1070.5,185.5 1076.5,188.5 1082.5,194.5 1086.5,193.5" fill="none" stroke="#00ffff" stroke-width="1"/>
<polyline points="512.5,23.5 538.5,24.5 548.5,27.5 559.5,31.5 568.5,35.5 586.5,42.5 602.5,49.5 612.5,52.5 617.5,54.5 635.5,59.5 667.5,69.5 683.5,75.5 699.5,80.5 748.5,92.5 755.5,93.5 774.5,98.5 813.5,109.5 842.5,120.5 875.5,134.5 889.5,140.5 911.5,150.5 938.5,159.5 962.5,167.5 980.5,168.5 995.5,168.5 1009.5,170.5 1033.5,170.5 1053.5,172.5 1081.5,176.5" fill="none" stroke="#ffb6c1" stroke-width="1"/>
<polyline points="513.5,24.5 534.5,43.5 555.5,64.5 567.5,75.5 591.5,94.5 602.5,105.5 612.5,114.5 622.5,122.5 635.5,133.5 639.5,137.5 649.5,144.5 654.5,145.5 659.5,146.5 667.5,147.5 670.5,151.5 678.5,151.5 690.5,151.5 695.5,149.5 708.5,148.5 722.5,148.5 730.5,148.5 737.5,145.5 748.5,141.5 754.5,140.5 768.5,139.5 777.5,139.5 787.5,142.5 795.5,147.5 803.5,150.5 832.5,159.5 852.5,165.5 875.5,173.5 884.5,180.5 899.5,188.5 909.5,193.5 923.5,197.5 938.5,198.5 944.5,197.5 966.5,197.5 972.5,197.5 982.5,195.5 994.5,193.5 1004.5,190.5 1014.5,187.5 1024.5,185.5 1040.5,184.5 1058.5,185.5 1063.5,186.5 1082.5,187.5" fill="none" stroke="#006400" stroke-width="1"/>
<polyline points="512.5,32.5 516.5,80.5 518.5,87.5 520.5,89.5 530.5,89.5 536.5,103.5 542.5,103.5 549.5,112.5 553.5,116.5 559.5,118.5 561.5,123.5 563.5,133.5 565.5,143.5 566.5,151.5 567.5,155.5 571.5,148.5 574.5,144.5 601.5,143.5 606.5,135.5 609.5,133.5 620.5,133.5 623.5,137.5 626.5,143.5 628.5,149.5 629.5,149.5 644.5,148.5 648.5,146.5 668.5,146.5 677.5,151.5 706.5,151.5 711.5,153.5 719.5,156.5 722.5,154.5 725.5,145.5 728.5,138.5 731.5,136.5 734.5,135.5 740.5,125.5 741.5,121.5 746.5,118.5 752.5,118.5 762.5,116.5 776.5,116.5 779.5,120.5 782.5,130.5 784.5,137.5 788.5,141.5 793.5,146.5 795.5,148.5 799.5,155.5 805.5,165.5 811.5,170.5 819.5,175.5 825.5,179.5 828.5,185.5 832.5,193.5 836.5,197.5 840.5,198.5 855.5,198.5 862.5,200.5 872.5,201.5 877.5,206.5 896.5,206.5 902.5,199.5 913.5,195.5 933.5,195.5 935.5,191.5 957.5,191.5 962.5,195.5 974.5,195.5 980.5,189.5 1004.5,189.5 1009.5,184.5 1017.5,178.5 1024.5,172.5 1028.5,168.5 1031.5,168.5 1033.5,169.5 1040.5,169.5 1047.5,175.5 1053.5,178.5 1065.5,178.5 1069.5,184.5 1074.5,190.5 1081.5,196.5" fill="none" stroke="#ff0000" stroke-width="3.3" stroke-linejoin="round" shape-rendering="geometricPrecision"/>
<polyline points="512.5,37.5 517.5,80.5 518.5,81.5 520.5,84.5 530.5,84.5 537.5,98.5 601.5,98.5 605.5,99.5 610.5,100.5 615.5,100.5 619.5,104.5 644.5,104.5 649.5,110.5 655.5,116.5 661.5,118.5 663.5,120.5 666.5,132.5 668.5,143.5 669.5,144.5 684.5,144.5 690.5,142.5 704.5,142.5 711.5,135.5 734.5,135.5 740.5,125.5 774.5,125.5 780.5,133.5 793.5,146.5 795.5,147.5 855.5,147.5 859.5,149.5 894.5,149.5 898.5,154.5 904.5,163.5 910.5,170.5 917.5,175.5 925.5,179.5 928.5,183.5 931.5,190.5 934.5,194.5 938.5,195.5 974.5,195.5 980.5,189.5 1004.5,189.5 1014.5,184.5 1082.5,184.5" fill="none" stroke="#0000ff" stroke-width="3.3" stroke-linejoin="round" shape-rendering="geometricPrecision"/>
<polyline points="512.5,138.5 518.5,152.5 524.5,164.5 530.5,160.5 536.5,165.5 542.5,153.5 548.5,147.5 554.5,149.5 560.5,148.5 566.5,148.5 572.5,144.5 578.5,117.5 584.5,111.5 590.5,95.5 596.5,106.5 602.5,122.5 608.5,133.5 614.5,138.5 620.5,141.5 626.5,143.5 632.5,186.5 638.5,193.5 644.5,208.5 650.5,208.5 656.5,197.5 662.5,190.5 668.5,193.5 674.5,197.5 680.5,203.5 686.5,198.5 692.5,203.5 698.5,208.5 704.5,211.5 710.5,204.5 716.5,204.5 722.5,200.5 728.5,197.5 734.5,197.5 740.5,203.5 746.5,199.5 752.5,187.5 758.5,186.5 764.5,182.5 770.5,194.5 776.5,200.5 782.5,199.5 788.5,176.5 794.5,192.5 800.5,196.5 806.5,200.5 812.5,210.5 818.5,199.5 824.5,186.5 830.5,171.5 836.5,171.5 842.5,177.5 848.5,172.5 854.5,167.5 860.5,164.5 866.5,164.5 872.5,170.5 878.5,171.5 884.5,185.5 890.5,179.5 896.5,189.5 902.5,199.5 908.5,200.5 914.5,206.5 920.5,210.5 926.5,208.5 932.5,208.5" fill="none" stroke="#009000" stroke-width="3.3" stroke-linejoin="round" shape-rendering="geometricPrecision"/>
<polyline points="514.5,40.5 516.5,60.5 520.5,75.5 524.5,91.5 530.5,109.5 536.5,133.5 539.5,145.5 542.5,162.5 548.5,166.5 554.5,167.5 560.5,171.5 567.5,164.5 577.5,149.5 583.5,145.5 592.5,143.5 597.5,144.5 602.5,148.5 608.5,151.5 614.5,153.5 619.5,154.5 623.5,151.5 627.5,145.5 632.5,143.5 641.5,145.5 654.5,140.5 666.5,141.5 673.5,147.5 683.5,153.5 691.5,159.5 699.5,157.5 705.5,155.5 712.5,152.5 716.5,149.5 722.5,146.5 728.5,141.5 732.5,135.5 737.5,127.5 742.5,118.5 748.5,114.5 752.5,111.5 756.5,114.5 762.5,119.5 769.5,127.5 776.5,137.5 780.5,143.5 782.5,150.5 791.5,165.5 800.5,187.5 805.5,195.5 812.5,199.5 819.5,198.5 829.5,196.5 840.5,200.5 852.5,204.5 862.5,205.5 875.5,202.5 879.5,202.5 889.5,200.5 899.5,198.5 909.5,193.5 918.5,189.5 927.5,189.5 933.5,195.5 945.5,193.5 955.5,194.5 967.5,198.5 973.5,199.5 980.5,193.5 987.5,186.5 994.5,178.5 998.5,175.5 1005.5,172.5 1012.5,169.5 1024.5,168.5 1035.5,171.5 1043.5,176.5 1053.5,187.5 1059.5,191.5 1065.5,194.5 1070.5,200.5 1074.5,204.5 1081.5,206.5" fill="none" stroke="#ff0000" stroke-width="1"/>
<rect x="518" y="124.3" width="1" height="32.3" fill="#0000ff"/>
<rect x="517" y="135" width="3" height="17.7" fill="#0000ff"/>
<rect x="524" y="141.9" width="1" height="19.1" fill="#0000ff"/>
<rect x="523" y="153" width="3" height="1" fill="#0000ff"/>
<rect x="530" y="138" width="1" height="18.6" fill="#ff0000"/>
<rect x="529" y="138" width="3" height="11.3" fill="#ff0000"/>
<rect x="536" y="138" width="1" height="51.8" fill="#0000ff"/>
<rect x="535" y="138" width="3" height="48.4" fill="#0000ff"/>
<rect x="542" y="175.2" width="1" height="11.5" fill="#ff0000"/>
<rect x="541" y="178" width="3" height="8.7" fill="#ff0000"/>
<rect x="548" y="167.3" width="1" height="15.2" fill="#0000ff"/>
<rect x="547" y="178" width="3" height="1" fill="#0000ff"/>
<rect x="554" y="156" width="1" height="30.7" fill="#ff0000"/>
<rect x="553" y="156" width="3" height="26.5" fill="#ff0000"/>
<rect x="560" y="149.3" width="1" height="15.1" fill="#0000ff"/>
<rect x="559" y="156" width="3" height="1" fill="#0000ff"/>
<rect x="565" y="156" width="3" height="1" fill="#0000ff"/>
<rect x="572" y="98" width="1" height="37.5" fill="#0000ff"/>
<rect x="571" y="119.9" width="3" height="15.6" fill="#0000ff"/>
<rect x="578" y="131.2" width="1" height="18.6" fill="#0000ff"/>
<rect x="577" y="131.2" width="3" height="7.3" fill="#0000ff"/>
<rect x="584" y="135" width="1" height="11.3" fill="#0000ff"/>
<rect x="583" y="135" width="3" height="4" fill="#0000ff"/>
<rect x="590" y="135" width="1" height="18.7" fill="#0000ff"/>
<rect x="589" y="138.5" width="3" height="7.8" fill="#0000ff"/>
<rect x="596" y="146.3" width="1" height="21.5" fill="#0000ff"/>
<rect x="595" y="149.3" width="3" height="11.2" fill="#0000ff"/>
<rect x="602" y="153.2" width="1" height="11.2" fill="#0000ff"/>
<rect x="601" y="160" width="3" height="1" fill="#0000ff"/>
<rect x="608" y="137.5" width="1" height="26.9" fill="#ff0000"/>
<rect x="607" y="153.2" width="3" height="7.3" fill="#ff0000"/>
<rect x="614" y="138.5" width="1" height="14.2" fill="#ff0000"/>
<rect x="613" y="145.9" width="3" height="6.8" fill="#ff0000"/>
<rect x="620" y="138.5" width="1" height="22" fill="#0000ff"/>
<rect x="619" y="145.9" width="3" height="10.7" fill="#0000ff"/>
<rect x="626" y="142" width="1" height="18.5" fill="#ff0000"/>
<rect x="625" y="142" width="3" height="14.6" fill="#ff0000"/>
<rect x="632" y="131.2" width="1" height="16.8" fill="#ff0000"/>
<rect x="631" y="137.6" width="3" height="4.9" fill="#ff0000"/>
<rect x="638" y="131.2" width="1" height="15.2" fill="#0000ff"/>
<rect x="637" y="138" width="3" height="8.4" fill="#0000ff"/>
<rect x="644" y="138" width="1" height="12.8" fill="#ff0000"/>
<rect x="643" y="142" width="3" height="7" fill="#ff0000"/>
<rect x="650" y="131.2" width="1" height="18.1" fill="#ff0000"/>
<rect x="649" y="137.6" width="3" height="4.9" fill="#ff0000"/>
<rect x="656" y="140" width="1" height="8" fill="#ff0000"/>
<rect x="655" y="143" width="3" height="3" fill="#ff0000"/>
<rect x="662" y="134.6" width="1" height="8.4" fill="#0000ff"/>
<rect x="661" y="138" width="3" height="1" fill="#0000ff"/>
<rect x="668" y="142.5" width="1" height="14.1" fill="#0000ff"/>
<rect x="667" y="142.5" width="3" height="9.2" fill="#0000ff"/>
<rect x="674" y="148.3" width="1" height="19.6" fill="#0000ff"/>
<rect x="673" y="153.7" width="3" height="10.7" fill="#0000ff"/>
<rect x="680" y="160" width="1" height="11.8" fill="#ff0000"/>
<rect x="679" y="160" width="3" height="4.9" fill="#ff0000"/>
<rect x="686" y="160" width="1" height="11.8" fill="#0000ff"/>
<rect x="685" y="160" width="3" height="7.9" fill="#0000ff"/>
<rect x="692" y="151" width="1" height="16.9" fill="#ff0000"/>
<rect x="691" y="151" width="3" height="16.9" fill="#ff0000"/>
<rect x="698" y="142" width="1" height="14.6" fill="#ff0000"/>
<rect x="697" y="145.9" width="3" height="6.1" fill="#ff0000"/>
<rect x="704" y="145.9" width="1" height="7.8" fill="#0000ff"/>
<rect x="703" y="149" width="3" height="1" fill="#0000ff"/>
<rect x="710" y="145.9" width="1" height="10.7" fill="#ff0000"/>
<rect x="709" y="150" width="3" height="5" fill="#ff0000"/>
<rect x="716" y="142" width="1" height="11.7" fill="#0000ff"/>
<rect x="715" y="148" width="3" height="1" fill="#0000ff"/>
<rect x="721" y="146" width="3" height="1" fill="#ff0000"/>
<rect x="728" y="98.4" width="1" height="26.4" fill="#0000ff"/>
<rect x="727" y="102.3" width="3" height="11.3" fill="#0000ff"/>
<rect x="734" y="100" width="1" height="24.8" fill="#0000ff"/>
<rect x="733" y="109" width="3" height="4.6" fill="#0000ff"/>
<rect x="740" y="80.4" width="1" height="33.6" fill="#ff0000"/>
<rect x="739" y="94" width="3" height="15.2" fill="#ff0000"/>
<rect x="746" y="84.3" width="1" height="35.7" fill="#0000ff"/>
<rect x="745" y="91" width="3" height="18.2" fill="#0000ff"/>
<rect x="752" y="100" width="1" height="24.8" fill="#0000ff"/>
<rect x="751" y="109.2" width="3" height="15.6" fill="#0000ff"/>
<rect x="758" y="126.8" width="1" height="23" fill="#0000ff"/>
<rect x="757" y="126.8" width="3" height="8.7" fill="#0000ff"/>
<rect x="764" y="126.8" width="1" height="20" fill="#0000ff"/>
<rect x="763" y="135" width="3" height="3.5" fill="#0000ff"/>
<rect x="770" y="135.5" width="1" height="18.2" fill="#0000ff"/>
<rect x="769" y="142" width="3" height="1" fill="#0000ff"/>
<rect x="775" y="142" width="3" height="1" fill="#0000ff"/>
<rect x="782" y="167.3" width="1" height="22.5" fill="#0000ff"/>
<rect x="781" y="171.25" width="3" height="15.15" fill="#0000ff"/>
<rect x="788" y="178.6" width="1" height="21.9" fill="#0000ff"/>
<rect x="787" y="182" width="3" height="11.5" fill="#0000ff"/>
<rect x="794" y="193.5" width="1" height="18.3" fill="#0000ff"/>
<rect x="793" y="197.6" width="3" height="10.8" fill="#0000ff"/>
<rect x="800" y="189.3" width="1" height="22.5" fill="#ff0000"/>
<rect x="799" y="208.4" width="3" height="3.4" fill="#ff0000"/>
<rect x="806" y="197.6" width="1" height="18.4" fill="#ff0000"/>
<rect x="805" y="197.6" width="3" height="10.8" fill="#ff0000"/>
<rect x="812" y="189.3" width="1" height="15.7" fill="#ff0000"/>
<rect x="811" y="189.3" width="3" height="10.7" fill="#ff0000"/>
<rect x="818" y="182" width="1" height="18.5" fill="#0000ff"/>
<rect x="817" y="189.3" width="3" height="4.9" fill="#0000ff"/>
<rect x="824" y="186" width="1" height="18.5" fill="#0000ff"/>
<rect x="823" y="193.2" width="3" height="4.4" fill="#0000ff"/>
<rect x="830" y="193.2" width="1" height="18.6" fill="#0000ff"/>
<rect x="829" y="193.2" width="3" height="11.3" fill="#0000ff"/>
<rect x="836" y="193.2" width="1" height="15.2" fill="#ff0000"/>
<rect x="835" y="197.6" width="3" height="10.8" fill="#ff0000"/>
<rect x="842" y="193.2" width="1" height="18.6" fill="#0000ff"/>
<rect x="841" y="193.2" width="3" height="11.3" fill="#0000ff"/>
<rect x="848" y="197.6" width="1" height="14.2" fill="#0000ff"/>
<rect x="847" y="200.5" width="3" height="7.9" fill="#0000ff"/>
<rect x="854" y="204.5" width="1" height="11.5" fill="#0000ff"/>
<rect x="853" y="208.4" width="3" height="3.4" fill="#0000ff"/>
<rect x="860" y="200.5" width="1" height="19.1" fill="#ff0000"/>
<rect x="859" y="203.5" width="3" height="7.8" fill="#ff0000"/>
<rect x="866" y="197" width="1" height="11.4" fill="#ff0000"/>
<rect x="865" y="204.5" width="3" height="3.9" fill="#ff0000"/>
<rect x="872" y="197" width="1" height="11.4" fill="#ff0000"/>
<rect x="871" y="200.5" width="3" height="3.5" fill="#ff0000"/>
<rect x="878" y="193.2" width="1" height="12.8" fill="#ff0000"/>
<rect x="877" y="196.6" width="3" height="7.4" fill="#ff0000"/>
<rect x="884" y="193.2" width="1" height="10.8" fill="#ff0000"/>
<rect x="883" y="197" width="3" height="3.5" fill="#ff0000"/>
<rect x="890" y="197" width="1" height="14.8" fill="#0000ff"/>
<rect x="889" y="197" width="3" height="8" fill="#0000ff"/>
<rect x="896" y="199" width="1" height="7" fill="#ff0000"/>
<rect x="895" y="199.2" width="3" height="5.8" fill="#ff0000"/>
<rect x="902" y="178" width="1" height="27" fill="#ff0000"/>
<rect x="901" y="186.4" width="3" height="12.2" fill="#ff0000"/>
<rect x="908" y="178" width="1" height="15.7" fill="#0000ff"/>
<rect x="907" y="186" width="3" height="1" fill="#0000ff"/>
<rect x="914" y="178" width="1" height="11.3" fill="#ff0000"/>
<rect x="913" y="182" width="3" height="7.3" fill="#ff0000"/>
<rect x="920" y="186.4" width="1" height="7.8" fill="#0000ff"/>
<rect x="919" y="186.4" width="3" height="7.8" fill="#0000ff"/>
<rect x="926" y="189.3" width="1" height="11.2" fill="#0000ff"/>
<rect x="925" y="193.2" width="3" height="7.3" fill="#0000ff"/>
<rect x="931" y="200" width="3" height="1" fill="#0000ff"/>
<rect x="938" y="171.25" width="1" height="26.35" fill="#ff0000"/>
<rect x="937" y="175.2" width="3" height="15.6" fill="#ff0000"/>
<rect x="944" y="171.25" width="1" height="40.55" fill="#0000ff"/>
<rect x="943" y="175.2" width="3" height="22.4" fill="#0000ff"/>
<rect x="950" y="193.2" width="1" height="15.2" fill="#0000ff"/>
<rect x="949" y="193.2" width="3" height="4.4" fill="#0000ff"/>
<rect x="956" y="186.4" width="1" height="18.1" fill="#0000ff"/>
<rect x="955" y="193.2" width="3" height="7.3" fill="#0000ff"/>
<rect x="962" y="197" width="1" height="22.6" fill="#0000ff"/>
<rect x="961" y="200" width="3" height="11.8" fill="#0000ff"/>
<rect x="968" y="193.2" width="1" height="18.6" fill="#ff0000"/>
<rect x="967" y="197.6" width="3" height="14.2" fill="#ff0000"/>
<rect x="974" y="175.2" width="1" height="25.3" fill="#ff0000"/>
<rect x="973" y="186" width="3" height="11.6" fill="#ff0000"/>
<rect x="980" y="160" width="1" height="26.4" fill="#ff0000"/>
<rect x="979" y="171.25" width="3" height="15.15" fill="#ff0000"/>
<rect x="986" y="160" width="1" height="13" fill="#0000ff"/>
<rect x="985" y="171" width="3" height="1" fill="#0000ff"/>
<rect x="992" y="167.1" width="1" height="15.3" fill="#0000ff"/>
<rect x="991" y="167.1" width="3" height="11.4" fill="#0000ff"/>
<rect x="998" y="167" width="1" height="15.2" fill="#ff0000"/>
<rect x="997" y="171" width="3" height="7.3" fill="#ff0000"/>
<rect x="1004" y="163.7" width="1" height="14.6" fill="#ff0000"/>
<rect x="1003" y="167" width="3" height="8.4" fill="#ff0000"/>
<rect x="1010" y="153" width="1" height="15" fill="#ff0000"/>
<rect x="1009" y="164" width="3" height="1" fill="#ff0000"/>
<rect x="1016" y="150" width="1" height="25.4" fill="#0000ff"/>
<rect x="1015" y="164" width="3" height="1" fill="#0000ff"/>
<rect x="1022" y="164.2" width="1" height="11.7" fill="#0000ff"/>
<rect x="1021" y="164.2" width="3" height="7.3" fill="#0000ff"/>
<rect x="1028" y="167.6" width="1" height="9.8" fill="#0000ff"/>
<rect x="1027" y="167.6" width="3" height="3.9" fill="#0000ff"/>
<rect x="1034" y="175.4" width="1" height="14.2" fill="#0000ff"/>
<rect x="1033" y="175.4" width="3" height="11.2" fill="#0000ff"/>
<rect x="1040" y="178.3" width="1" height="11.3" fill="#ff0000"/>
<rect x="1039" y="178.3" width="3" height="4.9" fill="#ff0000"/>
<rect x="1046" y="182.7" width="1" height="17.9" fill="#0000ff"/>
<rect x="1045" y="182.7" width="3" height="6.9" fill="#0000ff"/>
<rect x="1052" y="193.3" width="1" height="11.1" fill="#0000ff"/>
<rect x="1051" y="193.3" width="3" height="7.3" fill="#0000ff"/>
<rect x="1058" y="200.2" width="1" height="8.6" fill="#ff0000"/>
<rect x="1057" y="200.2" width="3" height="4.2" fill="#ff0000"/>
<rect x="1064" y="200.2" width="1" height="8.6" fill="#0000ff"/>
<rect x="1063" y="200.2" width="3" height="4.2" fill="#0000ff"/>
<rect x="1070" y="204" width="1" height="15.5" fill="#0000ff"/>
<rect x="1069" y="207.8" width="3" height="3.9" fill="#0000ff"/>
<rect x="1076" y="204.4" width="1" height="11.2" fill="#ff0000"/>
<rect x="1075" y="207.8" width="3" height="3.9" fill="#ff0000"/>
<rect x="1082" y="204" width="1" height="4.3" fill="#0000ff"/>
<rect x="1081" y="208" width="3" height="1" fill="#0000ff"/>
<rect x="511" y="308" width="3" height="4" fill="#009000"/>
<rect x="517" y="252" width="3" height="60" fill="#009000"/>
<rect x="523" y="288" width="3" height="24" fill="#009000"/>
<rect x="529" y="298" width="3" height="14" fill="#009000"/>
<rect x="535" y="259" width="3" height="53" fill="#009000"/>
<rect x="541" y="297" width="3" height="15" fill="#009000"/>
<rect x="547" y="298" width="3" height="14" fill="#009000"/>
<rect x="553" y="292" width="3" height="20" fill="#009000"/>
<rect x="559" y="301" width="3" height="11" fill="#009000"/>
<rect x="565" y="310" width="3" height="2" fill="#009000"/>
<rect x="571" y="251" width="3" height="61" fill="#009000"/>
<rect x="577" y="290" width="3" height="22" fill="#009000"/>
<rect x="583" y="305" width="3" height="7" fill="#009000"/>
<rect x="589" y="302" width="3" height="10" fill="#009000"/>
<rect x="595" y="291" width="3" height="21" fill="#009000"/>
<rect x="601" y="302" width="3" height="10" fill="#009000"/>
<rect x="607" y="296" width="3" height="16" fill="#009000"/>
<rect x="613" y="300" width="3" height="12" fill="#009000"/>
<rect x="619" y="298" width="3" height="14" fill="#009000"/>
<rect x="625" y="303" width="3" height="9" fill="#009000"/>
<rect x="631" y="288" width="3" height="24" fill="#009000"/>
<rect x="637" y="304" width="3" height="8" fill="#009000"/>
<rect x="643" y="308" width="3" height="4" fill="#009000"/>
<rect x="649" y="305" width="3" height="7" fill="#009000"/>
<rect x="655" y="309" width="3" height="3" fill="#009000"/>
<rect x="661" y="309" width="3" height="3" fill="#009000"/>
<rect x="667" y="307" width="3" height="5" fill="#009000"/>
<rect x="673" y="303" width="3" height="9" fill="#009000"/>
<rect x="679" y="309" width="3" height="3" fill="#009000"/>
<rect x="685" y="309" width="3" height="3" fill="#009000"/>
<rect x="691" y="309" width="3" height="3" fill="#009000"/>
<rect x="697" y="306" width="3" height="6" fill="#009000"/>
<rect x="703" y="310" width="3" height="2" fill="#009000"/>
<rect x="709" y="309" width="3" height="3" fill="#009000"/>
<rect x="715" y="307" width="3" height="5" fill="#009000"/>
<rect x="721" y="307" width="3" height="5" fill="#009000"/>
<rect x="727" y="270" width="3" height="42" fill="#009000"/>
<rect x="733" y="301" width="3" height="11" fill="#009000"/>
<rect x="739" y="262" width="3" height="50" fill="#009000"/>
<rect x="745" y="295" width="3" height="17" fill="#009000"/>
<rect x="751" y="292" width="3" height="20" fill="#009000"/>
<rect x="757" y="270" width="3" height="42" fill="#009000"/>
<rect x="763" y="293" width="3" height="19" fill="#009000"/>
<rect x="769" y="285" width="3" height="27" fill="#009000"/>
<rect x="775" y="310" width="3" height="2" fill="#009000"/>
<rect x="781" y="277" width="3" height="35" fill="#009000"/>
<rect x="787" y="279" width="3" height="33" fill="#009000"/>
<rect x="793" y="290" width="3" height="22" fill="#009000"/>
<rect x="799" y="283" width="3" height="29" fill="#009000"/>
<rect x="805" y="296" width="3" height="16" fill="#009000"/>
<rect x="811" y="301" width="3" height="11" fill="#009000"/>
<rect x="817" y="296" width="3" height="16" fill="#009000"/>
<rect x="823" y="299" width="3" height="13" fill="#009000"/>
<rect x="829" y="300" width="3" height="12" fill="#009000"/>
<rect x="835" y="301" width="3" height="11" fill="#009000"/>
<rect x="841" y="291" width="3" height="21" fill="#009000"/>
<rect x="847" y="304" width="3" height="8" fill="#009000"/>
<rect x="853" y="306" width="3" height="6" fill="#009000"/>
<rect x="859" y="304" width="3" height="8" fill="#009000"/>
<rect x="865" y="308" width="3" height="4" fill="#009000"/>
<rect x="871" y="309" width="3" height="3" fill="#009000"/>
<rect x="877" y="308" width="3" height="4" fill="#009000"/>
<rect x="883" y="309" width="3" height="3" fill="#009000"/>
<rect x="889" y="309" width="3" height="3" fill="#009000"/>
<rect x="895" y="309" width="3" height="3" fill="#009000"/>
<rect x="901" y="301" width="3" height="11" fill="#009000"/>
<rect x="907" y="308" width="3" height="4" fill="#009000"/>
<rect x="913" y="310" width="3" height="2" fill="#009000"/>
<rect x="919" y="308" width="3" height="4" fill="#009000"/>
<rect x="925" y="307" width="3" height="5" fill="#009000"/>
<rect x="931" y="308" width="3" height="4" fill="#009000"/>
<rect x="937" y="269" width="3" height="43" fill="#009000"/>
<rect x="943" y="281" width="3" height="31" fill="#009000"/>
<rect x="949" y="301" width="3" height="11" fill="#009000"/>
<rect x="955" y="297" width="3" height="15" fill="#009000"/>
<rect x="961" y="296" width="3" height="16" fill="#009000"/>
<rect x="967" y="306" width="3" height="6" fill="#009000"/>
<rect x="973" y="296" width="3" height="16" fill="#009000"/>
<rect x="979" y="284" width="3" height="28" fill="#009000"/>
<rect x="985" y="310" width="3" height="2" fill="#009000"/>
<rect x="991" y="290" width="3" height="22" fill="#009000"/>
<rect x="997" y="301" width="3" height="11" fill="#009000"/>
<rect x="1003" y="299" width="3" height="13" fill="#009000"/>
<rect x="1009" y="300" width="3" height="12" fill="#009000"/>
<rect x="1015" y="300" width="3" height="12" fill="#009000"/>
<rect x="1021" y="304" width="3" height="8" fill="#009000"/>
<rect x="1027" y="305" width="3" height="7" fill="#009000"/>
<rect x="1033" y="296" width="3" height="16" fill="#009000"/>
<rect x="1039" y="301" width="3" height="11" fill="#009000"/>
<rect x="1045" y="284" width="3" height="28" fill="#009000"/>
<rect x="1051" y="280" width="3" height="32" fill="#009000"/>
<rect x="1057" y="306" width="3" height="6" fill="#009000"/>
<rect x="1063" y="310" width="3" height="2" fill="#009000"/>
<rect x="1069" y="305" width="3" height="7" fill="#009000"/>
<rect x="1075" y="308" width="3" height="4" fill="#009000"/>
<rect x="1081" y="311" width="3" height="1" fill="#009000"/>
<rect x="512" y="312" width="572" height="1" fill="#000"/>
<rect x="512" y="357" width="571" height="1" fill="#808080"/>
<rect x="512" y="357" width="1" height="5" fill="#ff0000"/>
<rect x="518" y="357" width="1" height="13" fill="#ff0000"/>
<rect x="524" y="357" width="1" height="17" fill="#ff0000"/>
<rect x="530" y="357" width="1" height="18" fill="#ff0000"/>
<rect x="536" y="357" width="1" height="21" fill="#ff0000"/>
<rect x="542" y="357" width="1" height="21" fill="#ff0000"/>
<rect x="548" y="357" width="1" height="20" fill="#ff0000"/>
<rect x="554" y="357" width="1" height="16" fill="#ff0000"/>
<rect x="560" y="357" width="1" height="12" fill="#ff0000"/>
<rect x="566" y="357" width="1" height="9" fill="#ff0000"/>
<rect x="572" y="357" width="1" height="5" fill="#ff0000"/>
<rect x="578" y="357" width="1" height="2" fill="#ff0000"/>
<rect x="584" y="357" width="1" height="1" fill="#ff0000"/>
<rect x="590" y="356" width="1" height="2" fill="#ff0000"/>
<rect x="596" y="356" width="1" height="2" fill="#ff0000"/>
<rect x="602" y="356" width="1" height="2" fill="#ff0000"/>
<rect x="608" y="355" width="1" height="3" fill="#ff0000"/>
<rect x="614" y="354" width="1" height="4" fill="#ff0000"/>
<rect x="620" y="353" width="1" height="5" fill="#ff0000"/>
<rect x="626" y="352" width="1" height="6" fill="#ff0000"/>
<rect x="632" y="351" width="1" height="7" fill="#ff0000"/>
<rect x="638" y="351" width="1" height="7" fill="#ff0000"/>
<rect x="644" y="351" width="1" height="7" fill="#ff0000"/>
<rect x="650" y="350" width="1" height="8" fill="#ff0000"/>
<rect x="656" y="350" width="1" height="8" fill="#ff0000"/>
<rect x="662" y="351" width="1" height="7" fill="#ff0000"/>
<rect x="668" y="352" width="1" height="6" fill="#ff0000"/>
<rect x="674" y="354" width="1" height="4" fill="#ff0000"/>
<rect x="680" y="355" width="1" height="3" fill="#ff0000"/>
<rect x="686" y="356" width="1" height="2" fill="#ff0000"/>
<rect x="692" y="355" width="1" height="3" fill="#ff0000"/>
<rect x="698" y="354" width="1" height="4" fill="#ff0000"/>
<rect x="704" y="354" width="1" height="4" fill="#ff0000"/>
<rect x="710" y="354" width="1" height="4" fill="#ff0000"/>
<rect x="716" y="354" width="1" height="4" fill="#ff0000"/>
<rect x="722" y="354" width="1" height="4" fill="#ff0000"/>
<rect x="728" y="351" width="1" height="7" fill="#ff0000"/>
<rect x="734" y="350" width="1" height="8" fill="#ff0000"/>
<rect x="740" y="348" width="1" height="10" fill="#ff0000"/>
<rect x="746" y="348" width="1" height="10" fill="#ff0000"/>
<rect x="752" y="350" width="1" height="8" fill="#ff0000"/>
<rect x="758" y="352" width="1" height="6" fill="#ff0000"/>
<rect x="764" y="354" width="1" height="4" fill="#ff0000"/>
<rect x="770" y="356" width="1" height="2" fill="#ff0000"/>
<rect x="776" y="357" width="1" height="1" fill="#ff0000"/>
<rect x="782" y="357" width="1" height="4" fill="#ff0000"/>
<rect x="788" y="357" width="1" height="7" fill="#ff0000"/>
<rect x="794" y="357" width="1" height="9" fill="#ff0000"/>
<rect x="800" y="357" width="1" height="10" fill="#ff0000"/>
<rect x="806" y="357" width="1" height="10" fill="#ff0000"/>
<rect x="812" y="357" width="1" height="7" fill="#ff0000"/>
<rect x="818" y="357" width="1" height="7" fill="#ff0000"/>
<rect x="824" y="357" width="1" height="6" fill="#ff0000"/>
<rect x="830" y="357" width="1" height="5" fill="#ff0000"/>
<rect x="836" y="357" width="1" height="4" fill="#ff0000"/>
<rect x="842" y="357" width="1" height="3" fill="#ff0000"/>
<rect x="848" y="357" width="1" height="3" fill="#ff0000"/>
<rect x="854" y="357" width="1" height="2" fill="#ff0000"/>
<rect x="860" y="357" width="1" height="1" fill="#ff0000"/>
<rect x="866" y="357" width="1" height="1" fill="#ff0000"/>
<rect x="872" y="357" width="1" height="1" fill="#ff0000"/>
<rect x="878" y="356" width="1" height="2" fill="#ff0000"/>
<rect x="884" y="355" width="1" height="3" fill="#ff0000"/>
<rect x="890" y="355" width="1" height="3" fill="#ff0000"/>
<rect x="896" y="355" width="1" height="3" fill="#ff0000"/>
<rect x="902" y="354" width="1" height="4" fill="#ff0000"/>
<rect x="908" y="353" width="1" height="5" fill="#ff0000"/>
<rect x="914" y="352" width="1" height="6" fill="#ff0000"/>
<rect x="920" y="353" width="1" height="5" fill="#ff0000"/>
<rect x="926" y="354" width="1" height="4" fill="#ff0000"/>
<rect x="932" y="355" width="1" height="3" fill="#ff0000"/>
<rect x="938" y="353" width="1" height="5" fill="#ff0000"/>
<rect x="944" y="354" width="1" height="4" fill="#ff0000"/>
<rect x="950" y="355" width="1" height="3" fill="#ff0000"/>
<rect x="956" y="356" width="1" height="2" fill="#ff0000"/>
<rect x="962" y="357" width="1" height="1" fill="#ff0000"/>
<rect x="968" y="357" width="1" height="1" fill="#ff0000"/>
<rect x="974" y="356" width="1" height="2" fill="#ff0000"/>
<rect x="980" y="354" width="1" height="4" fill="#ff0000"/>
<rect x="986" y="353" width="1" height="5" fill="#ff0000"/>
<rect x="992" y="353" width="1" height="5" fill="#ff0000"/>
<rect x="998" y="353" width="1" height="5" fill="#ff0000"/>
<rect x="1004" y="353" width="1" height="5" fill="#ff0000"/>
<rect x="1010" y="353" width="1" height="5" fill="#ff0000"/>
<rect x="1016" y="353" width="1" height="5" fill="#ff0000"/>
<rect x="1022" y="354" width="1" height="4" fill="#ff0000"/>
<rect x="1028" y="355" width="1" height="3" fill="#ff0000"/>
<rect x="1034" y="356" width="1" height="2" fill="#ff0000"/>
<rect x="1040" y="357" width="1" height="1" fill="#ff0000"/>
<rect x="1046" y="357" width="1" height="1" fill="#ff0000"/>
<rect x="1052" y="357" width="1" height="2" fill="#ff0000"/>
<rect x="1058" y="357" width="1" height="3" fill="#ff0000"/>
<rect x="1064" y="357" width="1" height="4" fill="#ff0000"/>
<rect x="1070" y="357" width="1" height="5" fill="#ff0000"/>
<rect x="1076" y="357" width="1" height="5" fill="#ff0000"/>
<rect x="1082" y="357" width="1" height="4" fill="#ff0000"/>
<polyline points="512.5,360.5 518.5,371.5 524.5,382.5 530.5,386.5 536.5,394.5 542.5,401.5 548.5,405.5 554.5,405.5 560.5,404.5 566.5,404.5 572.5,400.5 578.5,397.5 584.5,395.5 590.5,393.5 596.5,393.5 602.5,392.5 608.5,390.5 614.5,388.5 620.5,387.5 626.5,384.5 632.5,381.5 638.5,380.5 644.5,378.5 650.5,376.5 656.5,374.5 662.5,372.5 668.5,372.5 674.5,373.5 680.5,373.5 686.5,373.5 692.5,372.5 698.5,370.5 704.5,370.5 710.5,368.5 716.5,367.5 722.5,366.5 728.5,362.5 734.5,358.5 740.5,354.5 746.5,352.5 752.5,352.5 758.5,353.5 764.5,354.5 770.5,355.5 776.5,356.5 782.5,360.5 788.5,366.5 794.5,371.5 800.5,375.5 806.5,377.5 812.5,377.5 818.5,377.5 824.5,378.5 830.5,379.5 836.5,378.5 842.5,379.5 848.5,379.5 854.5,379.5 860.5,378.5 866.5,378.5 872.5,376.5 878.5,375.5 884.5,373.5 890.5,373.5 896.5,372.5 902.5,370.5 908.5,367.5 914.5,365.5 920.5,365.5 926.5,365.5 932.5,364.5 938.5,362.5 944.5,362.5 950.5,362.5 956.5,362.5 962.5,363.5 968.5,363.5 974.5,362.5 980.5,359.5 986.5,357.5 992.5,356.5 998.5,355.5 1004.5,353.5 1010.5,352.5 1016.5,350.5 1022.5,350.5 1028.5,350.5 1034.5,352.5 1040.5,352.5 1046.5,354.5 1052.5,356.5 1058.5,358.5 1064.5,360.5 1070.5,362.5 1076.5,363.5 1082.5,364.5" fill="none" stroke="#ffff00" stroke-width="1"/>
<polyline points="512.5,357.5 518.5,360.5 524.5,364.5 530.5,368.5 536.5,373.5 542.5,379.5 548.5,384.5 554.5,388.5 560.5,391.5 566.5,393.5 572.5,395.5 578.5,396.5 584.5,396.5 590.5,395.5 596.5,395.5 602.5,393.5 608.5,392.5 614.5,391.5 620.5,390.5 626.5,388.5 632.5,386.5 638.5,385.5 644.5,383.5 650.5,381.5 656.5,379.5 662.5,378.5 668.5,377.5 674.5,377.5 680.5,376.5 686.5,375.5 692.5,374.5 698.5,374.5 704.5,373.5 710.5,372.5 716.5,371.5 722.5,370.5 728.5,369.5 734.5,367.5 740.5,364.5 746.5,362.5 752.5,360.5 758.5,358.5 764.5,357.5 770.5,357.5 776.5,357.5 782.5,357.5 788.5,359.5 794.5,362.5 800.5,364.5 806.5,367.5 812.5,369.5 818.5,371.5 824.5,372.5 830.5,373.5 836.5,374.5 842.5,375.5 848.5,376.5 854.5,377.5 860.5,377.5 866.5,377.5 872.5,377.5 878.5,377.5 884.5,376.5 890.5,375.5 896.5,375.5 902.5,374.5 908.5,372.5 914.5,371.5 920.5,370.5 926.5,369.5 932.5,368.5 938.5,367.5 944.5,366.5 950.5,365.5 956.5,365.5 962.5,364.5 968.5,364.5 974.5,364.5 980.5,363.5 986.5,362.5 992.5,360.5 998.5,359.5 1004.5,358.5 1010.5,357.5 1016.5,356.5 1022.5,354.5 1028.5,354.5 1034.5,353.5 1040.5,353.5 1046.5,353.5 1052.5,354.5 1058.5,355.5 1064.5,356.5 1070.5,357.5 1076.5,358.5 1082.5,359.5" fill="none" stroke="#0000ff" stroke-width="1.2"/>
<rect x="512" y="447" width="571" height="1" fill="#0000ff"/>
<rect x="512" y="495" width="571" height="1" fill="#ff0000"/>
<polyline points="512.5,498.5 518.5,502.5 524.5,504.5 530.5,505.5 536.5,505.5 542.5,505.5 548.5,506.5 554.5,504.5 560.5,501.5 566.5,498.5 572.5,495.5 578.5,492.5 584.5,489.5 590.5,487.5 596.5,486.5 602.5,486.5 608.5,485.5 614.5,482.5 620.5,480.5 626.5,479.5 632.5,477.5 638.5,476.5 644.5,477.5 650.5,479.5 656.5,474.5 662.5,466.5 668.5,462.5 674.5,469.5 680.5,479.5 686.5,490.5 692.5,490.5 698.5,484.5 704.5,478.5 710.5,472.5 716.5,470.5 722.5,467.5 728.5,463.5 734.5,457.5 740.5,453.5 746.5,451.5 752.5,453.5 758.5,460.5 764.5,468.5 770.5,476.5 776.5,484.5 782.5,492.5 788.5,498.5 794.5,503.5 800.5,506.5 806.5,506.5 812.5,504.5 818.5,501.5 824.5,500.5 830.5,500.5 836.5,500.5 842.5,500.5 848.5,500.5 854.5,502.5 860.5,501.5 866.5,496.5 872.5,488.5 878.5,479.5 884.5,472.5 890.5,471.5 896.5,471.5 902.5,468.5 908.5,461.5 914.5,453.5 920.5,451.5 926.5,454.5 932.5,462.5 938.5,462.5 944.5,463.5 950.5,464.5 956.5,472.5 962.5,482.5 968.5,484.5 974.5,481.5 980.5,470.5 986.5,460.5 992.5,455.5 998.5,452.5 1004.5,449.5 1010.5,447.5 1016.5,446.5 1022.5,448.5 1028.5,451.5 1034.5,457.5 1040.5,461.5 1046.5,468.5 1052.5,477.5 1058.5,488.5 1064.5,496.5 1070.5,500.5 1076.5,501.5 1082.5,501.5" fill="none" stroke="#ff0000" stroke-width="1"/>
<polyline points="512.5,499.5 518.5,505.5 524.5,506.5 530.5,503.5 536.5,506.5 542.5,507.5 548.5,506.5 554.5,501.5 560.5,498.5 566.5,497.5 572.5,492.5 578.5,489.5 584.5,486.5 590.5,486.5 596.5,486.5 602.5,486.5 608.5,483.5 614.5,478.5 620.5,481.5 626.5,476.5 632.5,472.5 638.5,479.5 644.5,481.5 650.5,479.5 656.5,461.5 662.5,455.5 668.5,467.5 674.5,485.5 680.5,488.5 686.5,496.5 692.5,484.5 698.5,472.5 704.5,470.5 710.5,469.5 716.5,469.5 722.5,466.5 728.5,456.5 734.5,452.5 740.5,448.5 746.5,452.5 752.5,460.5 758.5,468.5 764.5,476.5 770.5,480.5 776.5,488.5 782.5,498.5 788.5,502.5 794.5,505.5 800.5,508.5 806.5,504.5 812.5,500.5 818.5,499.5 824.5,500.5 830.5,502.5 836.5,499.5 842.5,500.5 848.5,501.5 854.5,505.5 860.5,497.5 866.5,490.5 872.5,481.5 878.5,472.5 884.5,468.5 890.5,474.5 896.5,473.5 902.5,459.5 908.5,453.5 914.5,446.5 920.5,453.5 926.5,463.5 932.5,470.5 938.5,454.5 944.5,463.5 950.5,472.5 956.5,481.5 962.5,490.5 968.5,482.5 974.5,471.5 980.5,459.5 986.5,452.5 992.5,454.5 998.5,451.5 1004.5,447.5 1010.5,445.5 1016.5,446.5 1022.5,452.5 1028.5,455.5 1034.5,463.5 1040.5,465.5 1046.5,473.5 1052.5,490.5 1058.5,496.5 1064.5,501.5 1070.5,502.5 1076.5,500.5 1082.5,500.5" fill="none" stroke="#0000ff" stroke-width="1"/>
</g>
<rect x="510" y="16" width="1" height="531" fill="#606060"/>
<rect x="511" y="16" width="1" height="508" fill="#000"/>
<rect x="1087" y="16" width="1" height="531" fill="#000"/>
<rect x="510" y="523" width="623" height="1" fill="#000"/>
<rect x="1088" y="22" width="5" height="1" fill="#000"/>
<rect x="1088" y="62" width="5" height="1" fill="#000"/>
<rect x="1088" y="102" width="5" height="1" fill="#000"/>
<rect x="1088" y="142" width="5" height="1" fill="#000"/>
<rect x="1088" y="182" width="5" height="1" fill="#000"/>
<rect x="1088" y="219" width="5" height="1" fill="#000"/>
<rect x="1088" y="250" width="5" height="1" fill="#000"/>
<rect x="1088" y="291" width="5" height="1" fill="#000"/>
<rect x="1088" y="347" width="5" height="1" fill="#000"/>
<rect x="1088" y="387" width="5" height="1" fill="#000"/>
<rect x="1088" y="444" width="5" height="1" fill="#000"/>
<rect x="1088" y="483" width="5" height="1" fill="#000"/>
<rect x="518" y="524" width="1" height="9" fill="#000"/>
<rect x="728" y="524" width="1" height="9" fill="#000"/>
<rect x="938" y="524" width="1" height="9" fill="#000"/>
<rect x="1090.5" y="312.5" width="39" height="13" fill="#fff" stroke="#000" stroke-width="1"/>
</g>
<g filter="url(#gray)">
<g clip-path="url(#ct)">
<text x="516.3" y="16.56" font-size="12" fill="#000" xml:space="preserve">日経225mini 10/03( 30分, 2010/02/18 - 2010/02/26 )</text>
<text x="836.3" y="16.56" font-size="12" fill="#000" xml:space="preserve">移動平均( Close, 75 )</text>
</g>
<text x="516.3" y="30.56" font-size="12" fill="#000" xml:space="preserve">一目均衡表( 9, 26, 52 )</text>
<text x="674.3" y="30.56" font-size="12" fill="#000" xml:space="preserve">移動平均( Close, 25 )</text>
<text x="820.3" y="30.56" font-size="12" fill="#000" xml:space="preserve">移動平均( Close, 5 )</text>
<text x="515.3" y="245.56" font-size="12" fill="#000" xml:space="preserve">出来高</text>
<text x="515.3" y="341.56" font-size="12" fill="#000" xml:space="preserve">MACD( 12, 26, 9 )</text>
<text x="515.3" y="439.56" font-size="12" fill="#000" xml:space="preserve">スロー・ストキャスティクス( 14, 3, 80, 20 )</text>
<text x="1095.5" y="27.56" font-size="12" fill="#000" xml:space="preserve">10,350</text>
<text x="1095.5" y="67.56" font-size="12" fill="#000" xml:space="preserve">10,295</text>
<text x="1095.5" y="107.56" font-size="12" fill="#000" xml:space="preserve">10,240</text>
<text x="1095.5" y="147.56" font-size="12" fill="#000" xml:space="preserve">10,185</text>
<text x="1095.5" y="187.56" font-size="12" fill="#000" xml:space="preserve">10,130</text>
<text x="1095.5" y="224.56" font-size="12" fill="#000" xml:space="preserve">10,080</text>
<text x="1095.5" y="255.56" font-size="12" fill="#000" xml:space="preserve">600.00</text>
<text x="1095.5" y="296.56" font-size="12" fill="#000" xml:space="preserve">200.00</text>
<text x="1095.5" y="352.56" font-size="12" fill="#000" xml:space="preserve">11.50</text>
<text x="1095.5" y="392.56" font-size="12" fill="#000" xml:space="preserve">-33.50</text>
<text x="1095.5" y="449.56" font-size="12" fill="#000" xml:space="preserve">85.00</text>
<text x="1095.5" y="488.56" font-size="12" fill="#000" xml:space="preserve">35.00</text>
<text x="1092" y="322.56" font-size="12" fill="#000" xml:space="preserve">× 100</text>
<text x="517.3" y="543.06" font-size="12" fill="#000" xml:space="preserve">02/24</text>
<text x="727.3" y="543.06" font-size="12" fill="#000" xml:space="preserve">02/25</text>
<text x="937.3" y="543.06" font-size="12" fill="#000" xml:space="preserve">02/26</text>
</g>
<ellipse class="ce" cx="61.75" cy="104.4" rx="8.7" ry="12" fill="none" stroke="#ed1c24" stroke-width="3"/>
<ellipse class="ce" cx="141.97" cy="103.45" rx="6.55" ry="7.1" fill="none" stroke="#ed1c24" stroke-width="2.7"/>
<ellipse class="ce" cx="158" cy="107.4" rx="5.55" ry="7.05" fill="none" stroke="#ed1c24" stroke-width="2.7"/>
<ellipse class="ce" cx="314.05" cy="172.7" rx="18.1" ry="30.75" fill="none" stroke="#ed1c24" stroke-width="3.3"/>
<ellipse class="ce" cx="574.6" cy="99.9" rx="9.8" ry="13.4" fill="none" stroke="#ed1c24" stroke-width="3"/>
<ellipse class="ce" cx="669.6" cy="138.35" rx="13" ry="14.9" fill="none" stroke="#ed1c24" stroke-width="3"/>
</svg>
</body></html>
